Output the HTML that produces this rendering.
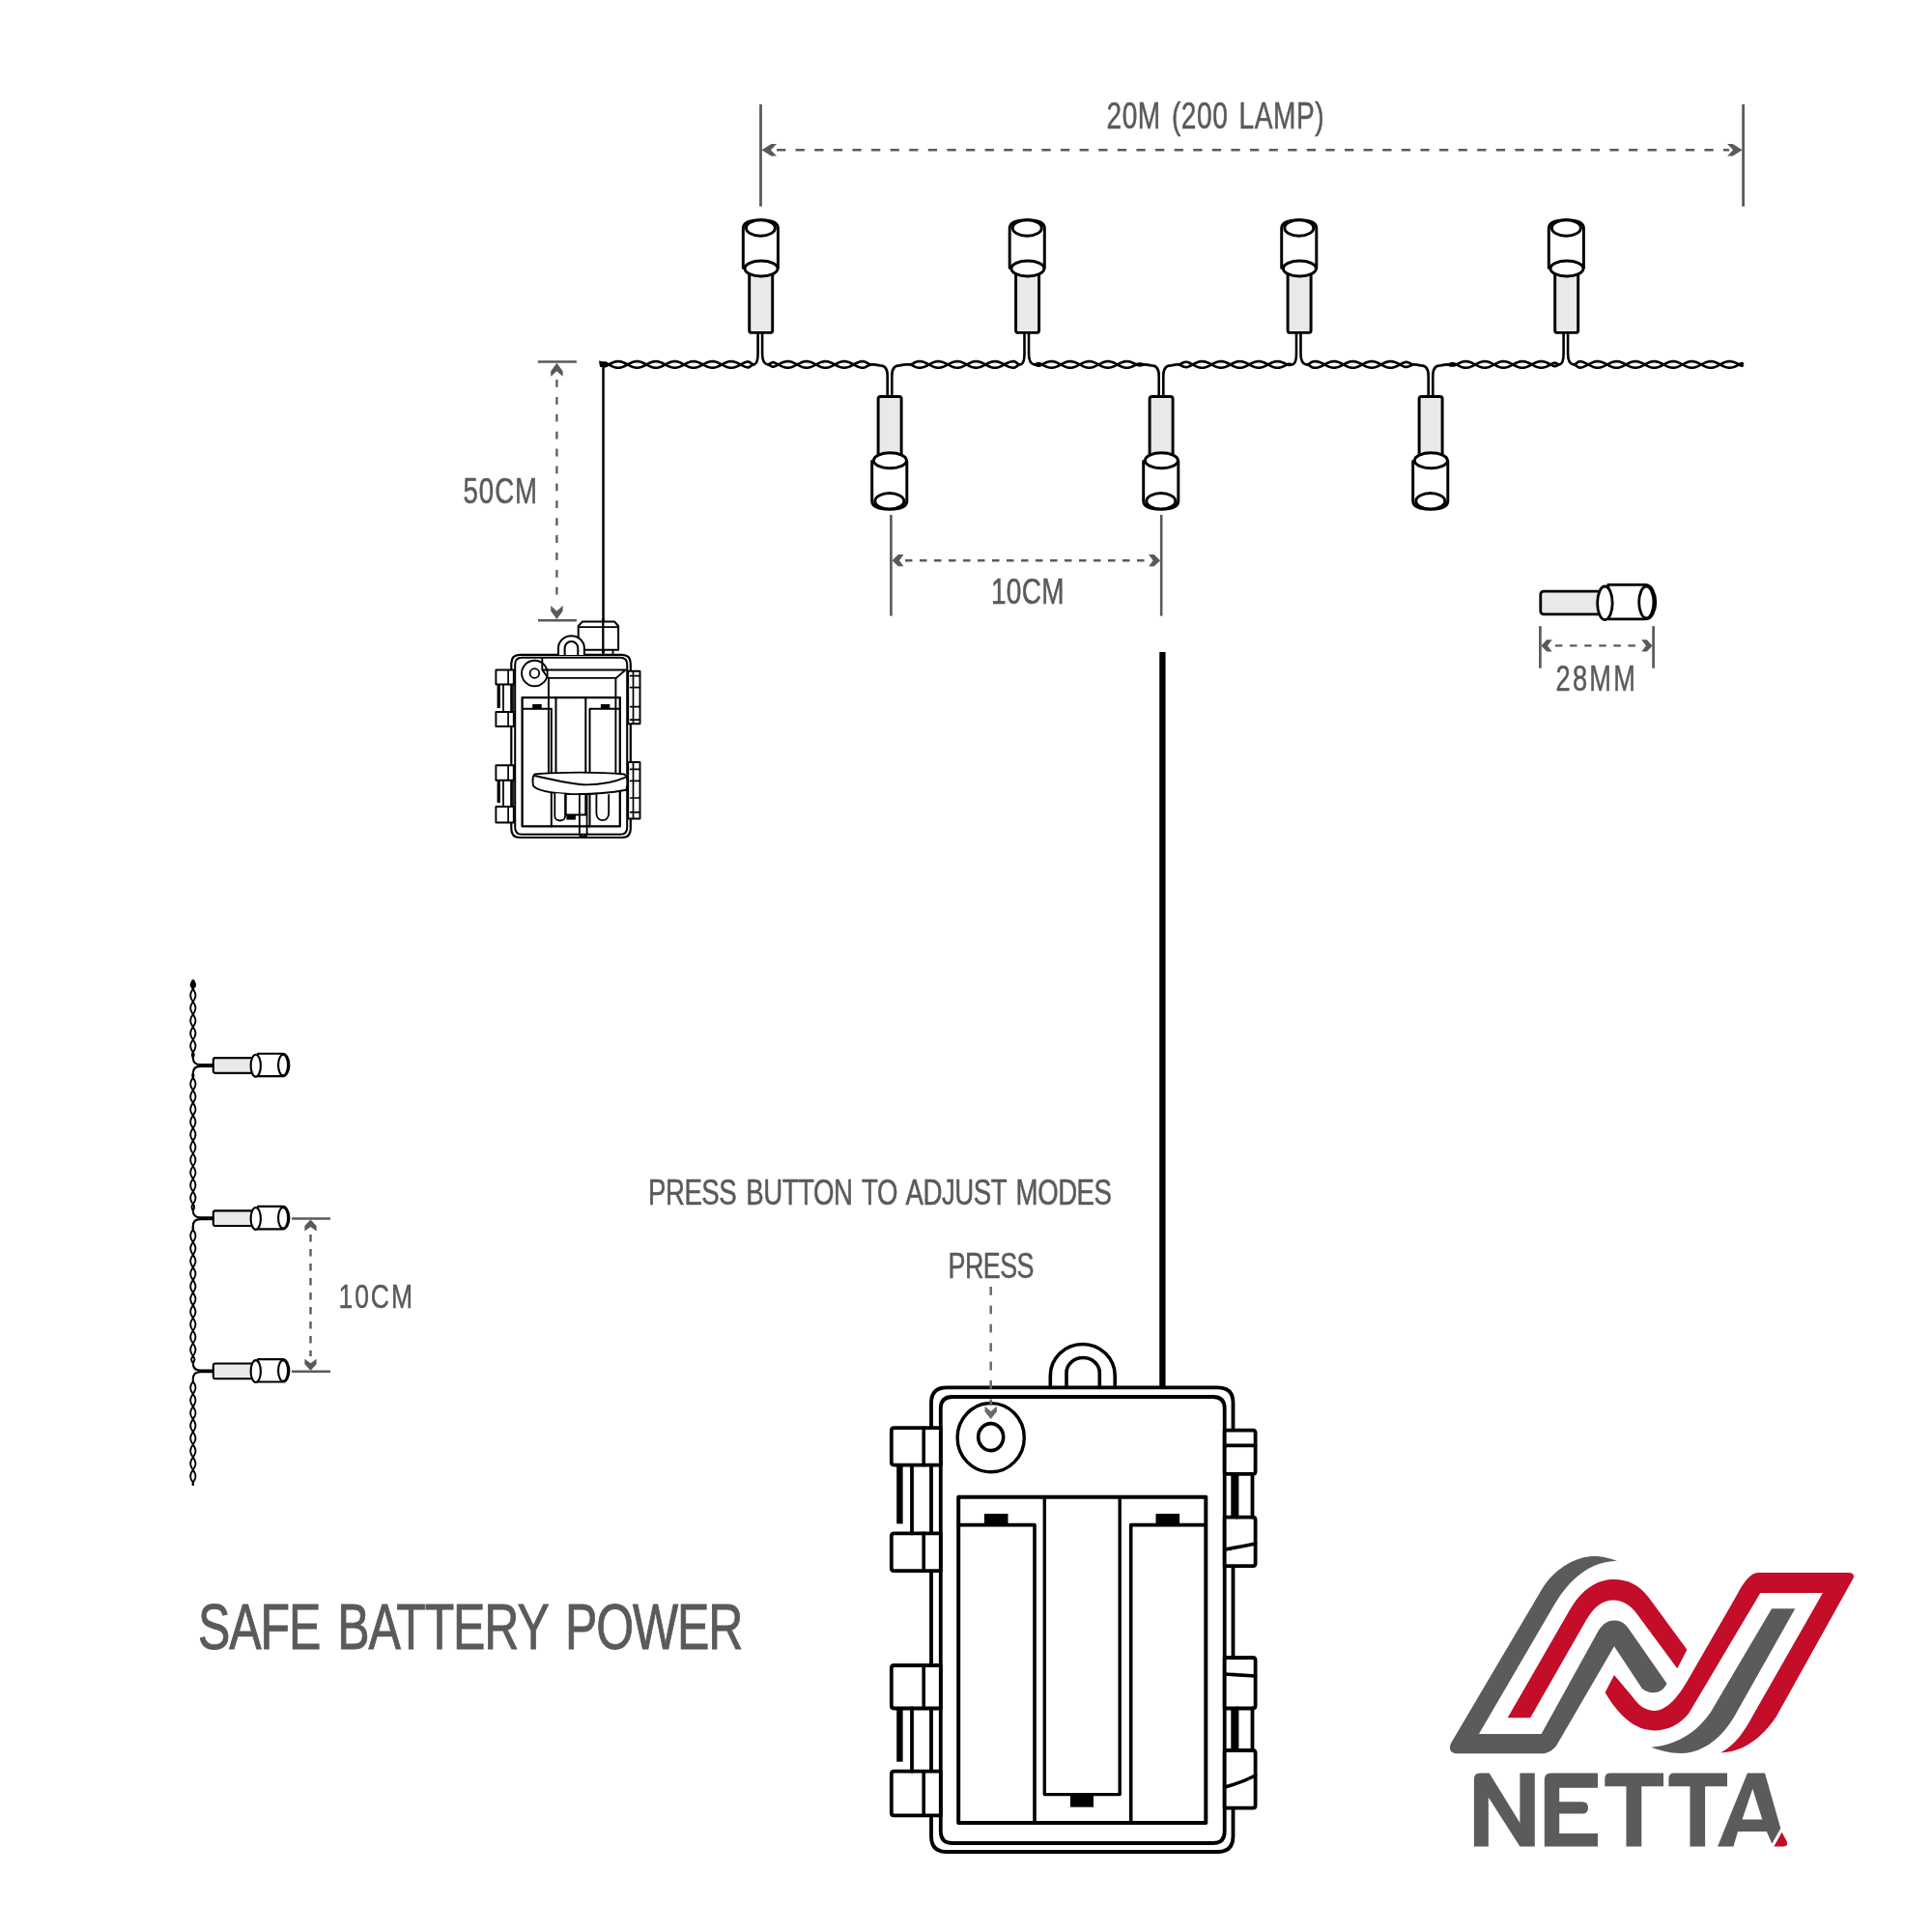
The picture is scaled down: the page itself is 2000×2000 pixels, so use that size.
<!DOCTYPE html>
<html><head><meta charset="utf-8"><style>
html,body{margin:0;padding:0;background:#fff;width:2000px;height:2000px;overflow:hidden}
svg{display:block}
text{font-family:"Liberation Sans",sans-serif;will-change:transform}
</style></head><body>
<svg width="2000" height="2000" viewBox="0 0 2000 2000">
<rect width="2000" height="2000" fill="#fff"/>
<line x1="787.5" y1="108" x2="787.5" y2="213.7" stroke="#5a5a5a" stroke-width="2.8" stroke-linecap="butt"/>
<line x1="1804.6" y1="108" x2="1804.6" y2="213.7" stroke="#5a5a5a" stroke-width="2.8" stroke-linecap="butt"/>
<line x1="804" y1="155.3" x2="1790" y2="155.3" stroke="#5a5a5a" stroke-width="2.6" stroke-linecap="butt" stroke-dasharray="9.3 10.3"/>
<polygon points="804,149.1 798.4,149.1 788.5,155.3 798.4,161.5 804,161.5 798,155.3" fill="#5a5a5a"/>
<polygon points="1788.1,161.5 1793.7,161.5 1803.6,155.3 1793.7,149.1 1788.1,149.1 1794.1,155.3" fill="#5a5a5a"/>
<text transform="translate(1145.5,132.9) scale(0.74,1)" font-size="37.94" word-spacing="3.98" textLength="304.05" lengthAdjust="spacing" fill="#5a5a5a" stroke="#5a5a5a" stroke-width="0.53">20M (200 LAMP)</text>
<path d="M624.5,377.4 L625.5,375.7 L626.5,375.55 L627.5,376.01 L628.5,376.51 L629.5,377.03 L630.5,377.56 L631.5,378.09 L632.51,378.6 L633.51,379.08 L634.51,379.51 L635.51,379.89 L636.51,380.21 L637.51,380.45 L638.51,380.61 L639.51,380.69 L640.51,380.69 L641.51,380.6 L642.51,380.42 L643.51,380.17 L644.51,379.85 L645.51,379.46 L646.51,379.02 L647.51,378.54 L648.52,378.03 L649.52,377.5 L650.52,376.97 L651.52,376.45 L652.52,375.95 L653.52,375.5 L654.52,375.09 L655.52,374.74 L656.52,374.46 L657.52,374.26 L658.52,374.14 L659.52,374.1 L660.52,374.15 L661.52,374.28 L662.52,374.5 L663.52,374.79 L664.53,375.14 L665.53,375.56 L666.53,376.02 L667.53,376.52 L668.53,377.04 L669.53,377.57 L670.53,378.1 L671.53,378.61 L672.53,379.09 L673.53,379.52 L674.53,379.9 L675.53,380.21 L676.53,380.45 L677.53,380.61 L678.53,380.69 L679.54,380.69 L680.54,380.59 L681.54,380.42 L682.54,380.16 L683.54,379.84 L684.54,379.45 L685.54,379.01 L686.54,378.53 L687.54,378.01 L688.54,377.48 L689.54,376.95 L690.54,376.43 L691.54,375.94 L692.54,375.48 L693.54,375.08 L694.54,374.73 L695.55,374.45 L696.55,374.25 L697.55,374.13 L698.55,374.1 L699.55,374.15 L700.55,374.29 L701.55,374.5 L702.55,374.79 L703.55,375.15 L704.55,375.57 L705.55,376.03 L706.55,376.53 L707.55,377.06 L708.55,377.59 L709.55,378.11 L710.56,378.62 L711.56,379.1 L712.56,379.53 L713.56,379.91 L714.56,380.22 L715.56,380.46 L716.56,380.62 L717.56,380.69 L718.56,380.68 L719.56,380.59 L720.56,380.41 L721.56,380.16 L722.56,379.83 L723.56,379.44 L724.56,379 L725.56,378.51 L726.57,378 L727.57,377.47 L728.57,376.94 L729.57,376.42 L730.57,375.93 L731.57,375.47 L732.57,375.07 L733.57,374.72 L734.57,374.45 L735.57,374.25 L736.57,374.13 L737.57,374.1 L738.57,374.15 L739.57,374.29 L740.57,374.51 L741.58,374.8 L742.58,375.16 L743.58,375.58 L744.58,376.05 L745.58,376.55 L746.58,377.07 L747.58,377.6 L748.58,378.13 L749.58,378.63 L750.58,379.11 L751.58,379.54 L752.58,379.92 L753.58,380.23 L754.58,380.46 L755.58,380.62 L756.58,380.69 L757.59,380.68 L758.59,380.59 L759.59,380.41 L760.59,380.15 L761.59,379.82 L762.59,379.43 L763.59,378.99 L764.59,378.5 L765.59,377.99 L766.59,377.46 L767.59,376.93 L768.59,376.41 L769.59,375.92 L770.59,375.46 L771.59,375.06 L772.59,374.72 L773.6,374.44 L774.6,374.4 L775.6,374.74 L776.6,375.38 L777.6,376.14 L778.6,376.81 L779.6,377.26 L780.6,377.4 M624.5,377.4 L625.5,379.1 L626.5,379.25 L627.5,378.79 L628.5,378.29 L629.5,377.77 L630.5,377.24 L631.5,376.71 L632.51,376.2 L633.51,375.72 L634.51,375.29 L635.51,374.91 L636.51,374.59 L637.51,374.35 L638.51,374.19 L639.51,374.11 L640.51,374.11 L641.51,374.2 L642.51,374.38 L643.51,374.63 L644.51,374.95 L645.51,375.34 L646.51,375.78 L647.51,376.26 L648.52,376.77 L649.52,377.3 L650.52,377.83 L651.52,378.35 L652.52,378.85 L653.52,379.3 L654.52,379.71 L655.52,380.06 L656.52,380.34 L657.52,380.54 L658.52,380.66 L659.52,380.7 L660.52,380.65 L661.52,380.52 L662.52,380.3 L663.52,380.01 L664.53,379.66 L665.53,379.24 L666.53,378.78 L667.53,378.28 L668.53,377.76 L669.53,377.23 L670.53,376.7 L671.53,376.19 L672.53,375.71 L673.53,375.28 L674.53,374.9 L675.53,374.59 L676.53,374.35 L677.53,374.19 L678.53,374.11 L679.54,374.11 L680.54,374.21 L681.54,374.38 L682.54,374.64 L683.54,374.96 L684.54,375.35 L685.54,375.79 L686.54,376.27 L687.54,376.79 L688.54,377.32 L689.54,377.85 L690.54,378.37 L691.54,378.86 L692.54,379.32 L693.54,379.72 L694.54,380.07 L695.55,380.35 L696.55,380.55 L697.55,380.67 L698.55,380.7 L699.55,380.65 L700.55,380.51 L701.55,380.3 L702.55,380.01 L703.55,379.65 L704.55,379.23 L705.55,378.77 L706.55,378.27 L707.55,377.74 L708.55,377.21 L709.55,376.69 L710.56,376.18 L711.56,375.7 L712.56,375.27 L713.56,374.89 L714.56,374.58 L715.56,374.34 L716.56,374.18 L717.56,374.11 L718.56,374.12 L719.56,374.21 L720.56,374.39 L721.56,374.64 L722.56,374.97 L723.56,375.36 L724.56,375.8 L725.56,376.29 L726.57,376.8 L727.57,377.33 L728.57,377.86 L729.57,378.38 L730.57,378.87 L731.57,379.33 L732.57,379.73 L733.57,380.08 L734.57,380.35 L735.57,380.55 L736.57,380.67 L737.57,380.7 L738.57,380.65 L739.57,380.51 L740.57,380.29 L741.58,380 L742.58,379.64 L743.58,379.22 L744.58,378.75 L745.58,378.25 L746.58,377.73 L747.58,377.2 L748.58,376.67 L749.58,376.17 L750.58,375.69 L751.58,375.26 L752.58,374.88 L753.58,374.57 L754.58,374.34 L755.58,374.18 L756.58,374.11 L757.59,374.12 L758.59,374.21 L759.59,374.39 L760.59,374.65 L761.59,374.98 L762.59,375.37 L763.59,375.81 L764.59,376.3 L765.59,376.81 L766.59,377.34 L767.59,377.87 L768.59,378.39 L769.59,378.88 L770.59,379.34 L771.59,379.74 L772.59,380.08 L773.6,380.36 L774.6,380.4 L775.6,380.06 L776.6,379.42 L777.6,378.66 L778.6,377.99 L779.6,377.54 L780.6,377.4 M794.6,377.4 L795.6,377.56 L796.61,378.02 L797.61,378.64 L798.61,379.24 L799.62,379.63 L800.62,379.69 L801.63,379.41 L802.63,378.97 L803.63,378.48 L804.64,377.96 L805.64,377.43 L806.64,376.9 L807.65,376.38 L808.65,375.89 L809.65,375.44 L810.66,375.04 L811.66,374.7 L812.67,374.43 L813.67,374.23 L814.67,374.13 L815.68,374.1 L816.68,374.16 L817.68,374.31 L818.69,374.54 L819.69,374.84 L820.69,375.21 L821.7,375.64 L822.7,376.11 L823.71,376.61 L824.71,377.14 L825.71,377.67 L826.72,378.2 L827.72,378.7 L828.72,379.17 L829.73,379.6 L830.73,379.97 L831.73,380.27 L832.74,380.49 L833.74,380.64 L834.75,380.7 L835.75,380.67 L836.75,380.56 L837.76,380.37 L838.76,380.1 L839.76,379.76 L840.77,379.35 L841.77,378.9 L842.77,378.41 L843.78,377.89 L844.78,377.36 L845.79,376.83 L846.79,376.31 L847.79,375.82 L848.8,375.38 L849.8,374.98 L850.8,374.65 L851.81,374.39 L852.81,374.21 L853.81,374.12 L854.82,374.11 L855.82,374.18 L856.83,374.34 L857.83,374.58 L858.83,374.89 L859.84,375.27 L860.84,375.7 L861.84,376.18 L862.85,376.69 L863.85,377.21 L864.85,377.75 L865.86,378.27 L866.86,378.77 L867.87,379.24 L868.87,379.65 L869.87,380.01 L870.88,380.3 L871.88,380.52 L872.88,380.65 L873.89,380.7 L874.89,380.66 L875.89,380.54 L876.9,380.33 L877.9,380.05 L878.91,379.7 L879.91,379.29 L880.91,378.83 L881.92,378.34 L882.92,377.81 L883.92,377.28 L884.93,376.75 L885.93,376.24 L886.93,375.76 L887.94,375.32 L888.94,374.93 L889.95,374.61 L890.95,374.36 L891.95,374.2 L892.96,374.11 L893.96,374.16 L894.96,374.4 L895.97,374.8 L896.97,375.3 L897.97,375.84 L898.98,376.36 L899.98,376.79 L900.99,377.11 L901.99,377.31 L902.99,377.39 L904,377.41 L905,377.4 M794.6,377.4 L795.6,377.24 L796.61,376.78 L797.61,376.16 L798.61,375.56 L799.62,375.17 L800.62,375.11 L801.63,375.39 L802.63,375.83 L803.63,376.32 L804.64,376.84 L805.64,377.37 L806.64,377.9 L807.65,378.42 L808.65,378.91 L809.65,379.36 L810.66,379.76 L811.66,380.1 L812.67,380.37 L813.67,380.57 L814.67,380.67 L815.68,380.7 L816.68,380.64 L817.68,380.49 L818.69,380.26 L819.69,379.96 L820.69,379.59 L821.7,379.16 L822.7,378.69 L823.71,378.19 L824.71,377.66 L825.71,377.13 L826.72,376.6 L827.72,376.1 L828.72,375.63 L829.73,375.2 L830.73,374.83 L831.73,374.53 L832.74,374.31 L833.74,374.16 L834.75,374.1 L835.75,374.13 L836.75,374.24 L837.76,374.43 L838.76,374.7 L839.76,375.04 L840.77,375.45 L841.77,375.9 L842.77,376.39 L843.78,376.91 L844.78,377.44 L845.79,377.97 L846.79,378.49 L847.79,378.98 L848.8,379.42 L849.8,379.82 L850.8,380.15 L851.81,380.41 L852.81,380.59 L853.81,380.68 L854.82,380.69 L855.82,380.62 L856.83,380.46 L857.83,380.22 L858.83,379.91 L859.84,379.53 L860.84,379.1 L861.84,378.62 L862.85,378.11 L863.85,377.59 L864.85,377.05 L865.86,376.53 L866.86,376.03 L867.87,375.56 L868.87,375.15 L869.87,374.79 L870.88,374.5 L871.88,374.28 L872.88,374.15 L873.89,374.1 L874.89,374.14 L875.89,374.26 L876.9,374.47 L877.9,374.75 L878.91,375.1 L879.91,375.51 L880.91,375.97 L881.92,376.46 L882.92,376.99 L883.92,377.52 L884.93,378.05 L885.93,378.56 L886.93,379.04 L887.94,379.48 L888.94,379.87 L889.95,380.19 L890.95,380.44 L891.95,380.6 L892.96,380.69 L893.96,380.64 L894.96,380.4 L895.97,380 L896.97,379.5 L897.97,378.96 L898.98,378.44 L899.98,378.01 L900.99,377.69 L901.99,377.49 L902.99,377.41 L904,377.39 L905,377.4 M937,377.4 L938,377.36 L939.01,377.29 L940.01,377.23 L941.02,377.24 L942.02,377.36 L943.03,377.62 L944.03,378.01 L945.03,378.5 L946.04,379.04 L947.04,379.57 L948.05,380.03 L949.05,380.35 L950.05,380.55 L951.06,380.67 L952.06,380.7 L953.07,380.65 L954.07,380.51 L955.08,380.29 L956.08,380 L957.08,379.63 L958.09,379.21 L959.09,378.75 L960.1,378.24 L961.1,377.72 L962.11,377.18 L963.11,376.66 L964.11,376.15 L965.12,375.67 L966.12,375.24 L967.13,374.87 L968.13,374.56 L969.13,374.33 L970.14,374.17 L971.14,374.1 L972.15,374.12 L973.15,374.22 L974.16,374.41 L975.16,374.67 L976.16,375.01 L977.17,375.4 L978.17,375.85 L979.18,376.34 L980.18,376.86 L981.18,377.39 L982.19,377.92 L983.19,378.44 L984.2,378.93 L985.2,379.38 L986.21,379.78 L987.21,380.12 L988.21,380.38 L989.22,380.57 L990.22,380.68 L991.23,380.7 L992.23,380.63 L993.24,380.48 L994.24,380.25 L995.24,379.94 L996.25,379.57 L997.25,379.14 L998.26,378.67 L999.26,378.16 L1000.26,377.63 L1001.27,377.1 L1002.27,376.57 L1003.28,376.07 L1004.28,375.6 L1005.29,375.18 L1006.29,374.81 L1007.29,374.52 L1008.3,374.3 L1009.3,374.16 L1010.31,374.1 L1011.31,374.13 L1012.32,374.25 L1013.32,374.45 L1014.32,374.72 L1015.33,375.07 L1016.33,375.47 L1017.34,375.93 L1018.34,376.43 L1019.34,376.95 L1020.35,377.48 L1021.35,378.01 L1022.36,378.52 L1023.36,379.01 L1024.37,379.45 L1025.37,379.84 L1026.37,380.17 L1027.38,380.42 L1028.38,380.6 L1029.39,380.69 L1030.39,380.69 L1031.39,380.61 L1032.4,380.45 L1033.4,380.2 L1034.41,379.88 L1035.41,379.5 L1036.42,379.07 L1037.42,378.59 L1038.42,378.07 L1039.43,377.54 L1040.43,377.01 L1041.44,376.49 L1042.44,375.99 L1043.45,375.53 L1044.45,375.11 L1045.45,374.76 L1046.46,374.48 L1047.46,374.27 L1048.47,374.14 L1049.47,374.1 L1050.47,374.3 L1051.48,374.85 L1052.48,375.61 L1053.49,376.37 L1054.49,376.97 L1055.5,377.31 L1056.5,377.4 M937,377.4 L938,377.44 L939.01,377.51 L940.01,377.57 L941.02,377.56 L942.02,377.44 L943.03,377.18 L944.03,376.79 L945.03,376.3 L946.04,375.76 L947.04,375.23 L948.05,374.77 L949.05,374.45 L950.05,374.25 L951.06,374.13 L952.06,374.1 L953.07,374.15 L954.07,374.29 L955.08,374.51 L956.08,374.8 L957.08,375.17 L958.09,375.59 L959.09,376.05 L960.1,376.56 L961.1,377.08 L962.11,377.62 L963.11,378.14 L964.11,378.65 L965.12,379.13 L966.12,379.56 L967.13,379.93 L968.13,380.24 L969.13,380.47 L970.14,380.63 L971.14,380.7 L972.15,380.68 L973.15,380.58 L974.16,380.39 L975.16,380.13 L976.16,379.79 L977.17,379.4 L978.17,378.95 L979.18,378.46 L980.18,377.94 L981.18,377.41 L982.19,376.88 L983.19,376.36 L984.2,375.87 L985.2,375.42 L986.21,375.02 L987.21,374.68 L988.21,374.42 L989.22,374.23 L990.22,374.12 L991.23,374.1 L992.23,374.17 L993.24,374.32 L994.24,374.55 L995.24,374.86 L996.25,375.23 L997.25,375.66 L998.26,376.13 L999.26,376.64 L1000.26,377.17 L1001.27,377.7 L1002.27,378.23 L1003.28,378.73 L1004.28,379.2 L1005.29,379.62 L1006.29,379.99 L1007.29,380.28 L1008.3,380.5 L1009.3,380.64 L1010.31,380.7 L1011.31,380.67 L1012.32,380.55 L1013.32,380.35 L1014.32,380.08 L1015.33,379.73 L1016.33,379.33 L1017.34,378.87 L1018.34,378.37 L1019.34,377.85 L1020.35,377.32 L1021.35,376.79 L1022.36,376.28 L1023.36,375.79 L1024.37,375.35 L1025.37,374.96 L1026.37,374.63 L1027.38,374.38 L1028.38,374.2 L1029.39,374.11 L1030.39,374.11 L1031.39,374.19 L1032.4,374.35 L1033.4,374.6 L1034.41,374.92 L1035.41,375.3 L1036.42,375.73 L1037.42,376.21 L1038.42,376.73 L1039.43,377.26 L1040.43,377.79 L1041.44,378.31 L1042.44,378.81 L1043.45,379.27 L1044.45,379.69 L1045.45,380.04 L1046.46,380.32 L1047.46,380.53 L1048.47,380.66 L1049.47,380.7 L1050.47,380.5 L1051.48,379.95 L1052.48,379.19 L1053.49,378.43 L1054.49,377.83 L1055.5,377.49 L1056.5,377.4 M1070.5,377.4 L1071.5,377.55 L1072.51,377.93 L1073.51,378.36 L1074.52,378.67 L1075.52,378.72 L1076.53,378.48 L1077.53,378.02 L1078.53,377.49 L1079.54,376.96 L1080.54,376.43 L1081.55,375.94 L1082.55,375.48 L1083.56,375.07 L1084.56,374.73 L1085.57,374.45 L1086.57,374.25 L1087.57,374.13 L1088.58,374.1 L1089.58,374.15 L1090.59,374.29 L1091.59,374.51 L1092.6,374.81 L1093.6,375.17 L1094.6,375.59 L1095.61,376.06 L1096.61,376.57 L1097.62,377.09 L1098.62,377.62 L1099.63,378.15 L1100.63,378.66 L1101.63,379.13 L1102.64,379.56 L1103.64,379.94 L1104.65,380.24 L1105.65,380.48 L1106.66,380.63 L1107.66,380.7 L1108.67,380.68 L1109.67,380.57 L1110.67,380.39 L1111.68,380.12 L1112.68,379.79 L1113.69,379.39 L1114.69,378.94 L1115.7,378.45 L1116.7,377.93 L1117.7,377.4 L1118.71,376.87 L1119.71,376.35 L1120.72,375.86 L1121.72,375.41 L1122.73,375.01 L1123.73,374.67 L1124.73,374.41 L1125.74,374.22 L1126.74,374.12 L1127.75,374.1 L1128.75,374.17 L1129.76,374.33 L1130.76,374.56 L1131.77,374.87 L1132.77,375.24 L1133.77,375.67 L1134.78,376.14 L1135.78,376.65 L1136.79,377.18 L1137.79,377.71 L1138.8,378.24 L1139.8,378.74 L1140.8,379.21 L1141.81,379.63 L1142.81,379.99 L1143.82,380.29 L1144.82,380.51 L1145.83,380.65 L1146.83,380.7 L1147.83,380.67 L1148.84,380.55 L1149.84,380.35 L1150.85,380.07 L1151.85,379.72 L1152.86,379.32 L1153.86,378.86 L1154.87,378.36 L1155.87,377.84 L1156.87,377.31 L1157.88,376.78 L1158.88,376.26 L1159.89,375.78 L1160.89,375.34 L1161.9,374.95 L1162.9,374.63 L1163.9,374.37 L1164.91,374.2 L1165.91,374.11 L1166.92,374.11 L1167.92,374.19 L1168.93,374.36 L1169.93,374.61 L1170.93,374.92 L1171.94,375.31 L1172.94,375.75 L1173.95,376.23 L1174.95,376.75 L1175.96,377.28 L1176.96,377.75 L1177.97,378.1 L1178.97,378.3 L1179.97,378.35 L1180.98,378.26 L1181.98,378.07 L1182.99,377.83 L1183.99,377.61 L1185,377.46 L1186,377.4 M1070.5,377.4 L1071.5,377.25 L1072.51,376.87 L1073.51,376.44 L1074.52,376.13 L1075.52,376.08 L1076.53,376.32 L1077.53,376.78 L1078.53,377.31 L1079.54,377.84 L1080.54,378.37 L1081.55,378.86 L1082.55,379.32 L1083.56,379.73 L1084.56,380.07 L1085.57,380.35 L1086.57,380.55 L1087.57,380.67 L1088.58,380.7 L1089.58,380.65 L1090.59,380.51 L1091.59,380.29 L1092.6,379.99 L1093.6,379.63 L1094.6,379.21 L1095.61,378.74 L1096.61,378.23 L1097.62,377.71 L1098.62,377.18 L1099.63,376.65 L1100.63,376.14 L1101.63,375.67 L1102.64,375.24 L1103.64,374.86 L1104.65,374.56 L1105.65,374.32 L1106.66,374.17 L1107.66,374.1 L1108.67,374.12 L1109.67,374.23 L1110.67,374.41 L1111.68,374.68 L1112.68,375.01 L1113.69,375.41 L1114.69,375.86 L1115.7,376.35 L1116.7,376.87 L1117.7,377.4 L1118.71,377.93 L1119.71,378.45 L1120.72,378.94 L1121.72,379.39 L1122.73,379.79 L1123.73,380.13 L1124.73,380.39 L1125.74,380.58 L1126.74,380.68 L1127.75,380.7 L1128.75,380.63 L1129.76,380.47 L1130.76,380.24 L1131.77,379.93 L1132.77,379.56 L1133.77,379.13 L1134.78,378.66 L1135.78,378.15 L1136.79,377.62 L1137.79,377.09 L1138.8,376.56 L1139.8,376.06 L1140.8,375.59 L1141.81,375.17 L1142.81,374.81 L1143.82,374.51 L1144.82,374.29 L1145.83,374.15 L1146.83,374.1 L1147.83,374.13 L1148.84,374.25 L1149.84,374.45 L1150.85,374.73 L1151.85,375.08 L1152.86,375.48 L1153.86,375.94 L1154.87,376.44 L1155.87,376.96 L1156.87,377.49 L1157.88,378.02 L1158.88,378.54 L1159.89,379.02 L1160.89,379.46 L1161.9,379.85 L1162.9,380.17 L1163.9,380.43 L1164.91,380.6 L1165.91,380.69 L1166.92,380.69 L1167.92,380.61 L1168.93,380.44 L1169.93,380.19 L1170.93,379.88 L1171.94,379.49 L1172.94,379.05 L1173.95,378.57 L1174.95,378.05 L1175.96,377.52 L1176.96,377.05 L1177.97,376.7 L1178.97,376.5 L1179.97,376.45 L1180.98,376.54 L1181.98,376.73 L1182.99,376.97 L1183.99,377.19 L1185,377.34 L1186,377.4 M1218,377.4 L1219,377.43 L1220,377.55 L1221,377.79 L1222,378.13 L1223,378.56 L1224,379.03 L1225,379.48 L1226,379.84 L1227,380.06 L1228,380.11 L1229,379.98 L1230,379.67 L1231,379.25 L1232,378.79 L1233,378.29 L1234,377.77 L1235,377.24 L1236,376.71 L1237,376.2 L1238,375.73 L1239,375.29 L1240,374.91 L1241,374.6 L1242,374.35 L1243,374.19 L1244,374.11 L1245,374.11 L1246,374.2 L1247,374.37 L1248,374.63 L1249,374.95 L1250,375.33 L1251,375.77 L1252,376.25 L1253,376.77 L1254,377.29 L1255,377.82 L1256,378.34 L1257,378.84 L1258,379.3 L1259,379.71 L1260,380.05 L1261,380.33 L1262,380.54 L1263,380.66 L1264,380.7 L1265,380.65 L1266,380.52 L1267,380.31 L1268,380.02 L1269,379.67 L1270,379.25 L1271,378.79 L1272,378.29 L1273,377.77 L1274,377.24 L1275,376.71 L1276,376.2 L1277,375.73 L1278,375.29 L1279,374.91 L1280,374.6 L1281,374.35 L1282,374.19 L1283,374.11 L1284,374.11 L1285,374.2 L1286,374.37 L1287,374.63 L1288,374.95 L1289,375.33 L1290,375.77 L1291,376.25 L1292,376.77 L1293,377.29 L1294,377.82 L1295,378.34 L1296,378.84 L1297,379.3 L1298,379.71 L1299,380.05 L1300,380.33 L1301,380.54 L1302,380.66 L1303,380.7 L1304,380.65 L1305,380.52 L1306,380.31 L1307,380.02 L1308,379.67 L1309,379.25 L1310,378.79 L1311,378.29 L1312,377.77 L1313,377.24 L1314,376.71 L1315,376.2 L1316,375.73 L1317,375.29 L1318,374.91 L1319,374.6 L1320,374.35 L1321,374.19 L1322,374.11 L1323,374.11 L1324,374.2 L1325,374.37 L1326,374.63 L1327,374.95 L1328,375.33 L1329,375.77 L1330,376.25 L1331,376.77 L1332,377.3 L1333,377.74 L1334,377.98 L1335,377.96 L1336,377.76 L1337,377.51 L1338,377.4 M1218,377.4 L1219,377.37 L1220,377.25 L1221,377.01 L1222,376.67 L1223,376.24 L1224,375.77 L1225,375.32 L1226,374.96 L1227,374.74 L1228,374.69 L1229,374.82 L1230,375.13 L1231,375.55 L1232,376.01 L1233,376.51 L1234,377.03 L1235,377.56 L1236,378.09 L1237,378.6 L1238,379.07 L1239,379.51 L1240,379.89 L1241,380.2 L1242,380.45 L1243,380.61 L1244,380.69 L1245,380.69 L1246,380.6 L1247,380.43 L1248,380.17 L1249,379.85 L1250,379.47 L1251,379.03 L1252,378.55 L1253,378.03 L1254,377.51 L1255,376.98 L1256,376.46 L1257,375.96 L1258,375.5 L1259,375.09 L1260,374.75 L1261,374.47 L1262,374.26 L1263,374.14 L1264,374.1 L1265,374.15 L1266,374.28 L1267,374.49 L1268,374.78 L1269,375.13 L1270,375.55 L1271,376.01 L1272,376.51 L1273,377.03 L1274,377.56 L1275,378.09 L1276,378.6 L1277,379.07 L1278,379.51 L1279,379.89 L1280,380.2 L1281,380.45 L1282,380.61 L1283,380.69 L1284,380.69 L1285,380.6 L1286,380.43 L1287,380.17 L1288,379.85 L1289,379.47 L1290,379.03 L1291,378.55 L1292,378.03 L1293,377.51 L1294,376.98 L1295,376.46 L1296,375.96 L1297,375.5 L1298,375.09 L1299,374.75 L1300,374.47 L1301,374.26 L1302,374.14 L1303,374.1 L1304,374.15 L1305,374.28 L1306,374.49 L1307,374.78 L1308,375.13 L1309,375.55 L1310,376.01 L1311,376.51 L1312,377.03 L1313,377.56 L1314,378.09 L1315,378.6 L1316,379.07 L1317,379.51 L1318,379.89 L1319,380.2 L1320,380.45 L1321,380.61 L1322,380.69 L1323,380.69 L1324,380.6 L1325,380.43 L1326,380.17 L1327,379.85 L1328,379.47 L1329,379.03 L1330,378.55 L1331,378.03 L1332,377.5 L1333,377.06 L1334,376.82 L1335,376.84 L1336,377.04 L1337,377.29 L1338,377.4 M1352,377.4 L1353,377.37 L1354,377.18 L1355,376.75 L1356,376.11 L1357,375.38 L1358,374.74 L1359,374.35 L1360,374.19 L1361,374.11 L1362,374.11 L1363,374.2 L1364,374.37 L1365,374.63 L1366,374.95 L1367,375.33 L1368,375.77 L1369,376.25 L1370,376.77 L1371,377.29 L1372,377.82 L1373,378.34 L1374,378.84 L1375,379.3 L1376,379.71 L1377,380.05 L1378,380.33 L1379,380.54 L1380,380.66 L1381,380.7 L1382,380.65 L1383,380.52 L1384,380.31 L1385,380.02 L1386,379.67 L1387,379.25 L1388,378.79 L1389,378.29 L1390,377.77 L1391,377.24 L1392,376.71 L1393,376.2 L1394,375.73 L1395,375.29 L1396,374.91 L1397,374.6 L1398,374.35 L1399,374.19 L1400,374.11 L1401,374.11 L1402,374.2 L1403,374.37 L1404,374.63 L1405,374.95 L1406,375.33 L1407,375.77 L1408,376.25 L1409,376.77 L1410,377.29 L1411,377.82 L1412,378.34 L1413,378.84 L1414,379.3 L1415,379.71 L1416,380.05 L1417,380.33 L1418,380.54 L1419,380.66 L1420,380.7 L1421,380.65 L1422,380.52 L1423,380.31 L1424,380.02 L1425,379.67 L1426,379.25 L1427,378.79 L1428,378.29 L1429,377.77 L1430,377.24 L1431,376.71 L1432,376.2 L1433,375.73 L1434,375.29 L1435,374.91 L1436,374.6 L1437,374.35 L1438,374.19 L1439,374.11 L1440,374.11 L1441,374.2 L1442,374.37 L1443,374.63 L1444,374.95 L1445,375.33 L1446,375.77 L1447,376.25 L1448,376.77 L1449,377.29 L1450,377.82 L1451,378.34 L1452,378.84 L1453,379.3 L1454,379.67 L1455,379.88 L1456,379.9 L1457,379.75 L1458,379.45 L1459,379.05 L1460,378.61 L1461,378.18 L1462,377.83 L1463,377.58 L1464,377.44 L1465,377.4 M1352,377.4 L1353,377.43 L1354,377.62 L1355,378.05 L1356,378.69 L1357,379.42 L1358,380.06 L1359,380.45 L1360,380.61 L1361,380.69 L1362,380.69 L1363,380.6 L1364,380.43 L1365,380.17 L1366,379.85 L1367,379.47 L1368,379.03 L1369,378.55 L1370,378.03 L1371,377.51 L1372,376.98 L1373,376.46 L1374,375.96 L1375,375.5 L1376,375.09 L1377,374.75 L1378,374.47 L1379,374.26 L1380,374.14 L1381,374.1 L1382,374.15 L1383,374.28 L1384,374.49 L1385,374.78 L1386,375.13 L1387,375.55 L1388,376.01 L1389,376.51 L1390,377.03 L1391,377.56 L1392,378.09 L1393,378.6 L1394,379.07 L1395,379.51 L1396,379.89 L1397,380.2 L1398,380.45 L1399,380.61 L1400,380.69 L1401,380.69 L1402,380.6 L1403,380.43 L1404,380.17 L1405,379.85 L1406,379.47 L1407,379.03 L1408,378.55 L1409,378.03 L1410,377.51 L1411,376.98 L1412,376.46 L1413,375.96 L1414,375.5 L1415,375.09 L1416,374.75 L1417,374.47 L1418,374.26 L1419,374.14 L1420,374.1 L1421,374.15 L1422,374.28 L1423,374.49 L1424,374.78 L1425,375.13 L1426,375.55 L1427,376.01 L1428,376.51 L1429,377.03 L1430,377.56 L1431,378.09 L1432,378.6 L1433,379.07 L1434,379.51 L1435,379.89 L1436,380.2 L1437,380.45 L1438,380.61 L1439,380.69 L1440,380.69 L1441,380.6 L1442,380.43 L1443,380.17 L1444,379.85 L1445,379.47 L1446,379.03 L1447,378.55 L1448,378.03 L1449,377.51 L1450,376.98 L1451,376.46 L1452,375.96 L1453,375.5 L1454,375.13 L1455,374.92 L1456,374.9 L1457,375.05 L1458,375.35 L1459,375.75 L1460,376.19 L1461,376.62 L1462,376.97 L1463,377.22 L1464,377.36 L1465,377.4 M1497,377.4 L1498.01,377.46 L1499.01,377.62 L1500.02,377.86 L1501.02,378.13 L1502.03,378.38 L1503.03,378.54 L1504.04,378.56 L1505.04,378.43 L1506.05,378.15 L1507.05,377.72 L1508.06,377.21 L1509.06,376.68 L1510.07,376.17 L1511.07,375.69 L1512.08,375.26 L1513.08,374.88 L1514.09,374.57 L1515.09,374.34 L1516.1,374.18 L1517.1,374.11 L1518.11,374.12 L1519.11,374.22 L1520.12,374.4 L1521.12,374.66 L1522.13,374.99 L1523.13,375.39 L1524.14,375.84 L1525.14,376.33 L1526.15,376.84 L1527.15,377.38 L1528.16,377.91 L1529.16,378.43 L1530.17,378.92 L1531.17,379.37 L1532.18,379.77 L1533.18,380.11 L1534.19,380.38 L1535.19,380.57 L1536.2,380.68 L1537.21,380.7 L1538.21,380.63 L1539.22,380.48 L1540.22,380.25 L1541.23,379.95 L1542.23,379.58 L1543.24,379.15 L1544.24,378.67 L1545.25,378.17 L1546.25,377.64 L1547.26,377.1 L1548.26,376.58 L1549.27,376.07 L1550.27,375.6 L1551.28,375.18 L1552.28,374.82 L1553.29,374.52 L1554.29,374.3 L1555.3,374.16 L1556.3,374.1 L1557.31,374.13 L1558.31,374.25 L1559.32,374.45 L1560.32,374.72 L1561.33,375.07 L1562.33,375.47 L1563.34,375.93 L1564.34,376.43 L1565.35,376.95 L1566.35,377.48 L1567.36,378.01 L1568.36,378.53 L1569.37,379.01 L1570.37,379.46 L1571.38,379.85 L1572.38,380.17 L1573.39,380.42 L1574.39,380.6 L1575.4,380.69 L1576.41,380.69 L1577.41,380.61 L1578.42,380.44 L1579.42,380.2 L1580.43,379.88 L1581.43,379.49 L1582.44,379.06 L1583.44,378.57 L1584.45,378.06 L1585.45,377.53 L1586.46,377 L1587.46,376.48 L1588.47,375.98 L1589.47,375.52 L1590.48,375.1 L1591.48,374.75 L1592.49,374.47 L1593.49,374.26 L1594.5,374.14 L1595.5,374.1 L1596.51,374.15 L1597.51,374.28 L1598.52,374.49 L1599.52,374.79 L1600.53,375.14 L1601.53,375.56 L1602.54,376.03 L1603.54,376.53 L1604.55,377.05 L1605.55,377.59 L1606.56,378.12 L1607.56,378.63 L1608.57,379.03 L1609.57,379.14 L1610.58,378.95 L1611.58,378.51 L1612.59,377.98 L1613.59,377.56 L1614.6,377.4 M1497,377.4 L1498.01,377.34 L1499.01,377.18 L1500.02,376.94 L1501.02,376.67 L1502.03,376.42 L1503.03,376.26 L1504.04,376.24 L1505.04,376.37 L1506.05,376.65 L1507.05,377.08 L1508.06,377.59 L1509.06,378.12 L1510.07,378.63 L1511.07,379.11 L1512.08,379.54 L1513.08,379.92 L1514.09,380.23 L1515.09,380.46 L1516.1,380.62 L1517.1,380.69 L1518.11,380.68 L1519.11,380.58 L1520.12,380.4 L1521.12,380.14 L1522.13,379.81 L1523.13,379.41 L1524.14,378.96 L1525.14,378.47 L1526.15,377.96 L1527.15,377.42 L1528.16,376.89 L1529.16,376.37 L1530.17,375.88 L1531.17,375.43 L1532.18,375.03 L1533.18,374.69 L1534.19,374.42 L1535.19,374.23 L1536.2,374.12 L1537.21,374.1 L1538.21,374.17 L1539.22,374.32 L1540.22,374.55 L1541.23,374.85 L1542.23,375.22 L1543.24,375.65 L1544.24,376.13 L1545.25,376.63 L1546.25,377.16 L1547.26,377.7 L1548.26,378.22 L1549.27,378.73 L1550.27,379.2 L1551.28,379.62 L1552.28,379.98 L1553.29,380.28 L1554.29,380.5 L1555.3,380.64 L1556.3,380.7 L1557.31,380.67 L1558.31,380.55 L1559.32,380.35 L1560.32,380.08 L1561.33,379.73 L1562.33,379.33 L1563.34,378.87 L1564.34,378.37 L1565.35,377.85 L1566.35,377.32 L1567.36,376.79 L1568.36,376.27 L1569.37,375.79 L1570.37,375.34 L1571.38,374.95 L1572.38,374.63 L1573.39,374.38 L1574.39,374.2 L1575.4,374.11 L1576.41,374.11 L1577.41,374.19 L1578.42,374.36 L1579.42,374.6 L1580.43,374.92 L1581.43,375.31 L1582.44,375.74 L1583.44,376.23 L1584.45,376.74 L1585.45,377.27 L1586.46,377.8 L1587.46,378.32 L1588.47,378.82 L1589.47,379.28 L1590.48,379.7 L1591.48,380.05 L1592.49,380.33 L1593.49,380.54 L1594.5,380.66 L1595.5,380.7 L1596.51,380.65 L1597.51,380.52 L1598.52,380.31 L1599.52,380.01 L1600.53,379.66 L1601.53,379.24 L1602.54,378.77 L1603.54,378.27 L1604.55,377.75 L1605.55,377.21 L1606.56,376.68 L1607.56,376.17 L1608.57,375.77 L1609.57,375.66 L1610.58,375.85 L1611.58,376.29 L1612.59,376.82 L1613.59,377.24 L1614.6,377.4 M1628.6,377.4 L1629.61,377.28 L1630.61,376.89 L1631.62,376.24 L1632.62,375.46 L1633.63,374.73 L1634.63,374.25 L1635.64,374.16 L1636.64,374.3 L1637.65,374.53 L1638.65,374.83 L1639.66,375.19 L1640.66,375.62 L1641.67,376.09 L1642.67,376.6 L1643.68,377.12 L1644.68,377.66 L1645.69,378.18 L1646.69,378.69 L1647.7,379.16 L1648.7,379.59 L1649.71,379.96 L1650.71,380.26 L1651.72,380.49 L1652.72,380.64 L1653.73,380.7 L1654.73,380.67 L1655.74,380.56 L1656.74,380.37 L1657.75,380.1 L1658.75,379.76 L1659.76,379.36 L1660.76,378.9 L1661.77,378.41 L1662.77,377.89 L1663.78,377.36 L1664.79,376.83 L1665.79,376.31 L1666.8,375.82 L1667.8,375.38 L1668.81,374.98 L1669.81,374.65 L1670.82,374.39 L1671.82,374.21 L1672.83,374.12 L1673.83,374.11 L1674.84,374.18 L1675.84,374.34 L1676.85,374.58 L1677.85,374.9 L1678.86,375.27 L1679.86,375.71 L1680.87,376.19 L1681.87,376.7 L1682.88,377.23 L1683.88,377.76 L1684.89,378.29 L1685.89,378.79 L1686.9,379.25 L1687.9,379.67 L1688.91,380.02 L1689.91,380.31 L1690.92,380.52 L1691.92,380.66 L1692.93,380.7 L1693.93,380.66 L1694.94,380.53 L1695.94,380.32 L1696.95,380.04 L1697.95,379.68 L1698.96,379.27 L1699.97,378.81 L1700.97,378.31 L1701.98,377.78 L1702.98,377.25 L1703.99,376.72 L1704.99,376.21 L1706,375.73 L1707,375.29 L1708.01,374.91 L1709.01,374.59 L1710.02,374.35 L1711.02,374.19 L1712.03,374.11 L1713.03,374.11 L1714.04,374.21 L1715.04,374.38 L1716.05,374.64 L1717.05,374.97 L1718.06,375.36 L1719.06,375.8 L1720.07,376.29 L1721.07,376.8 L1722.08,377.34 L1723.08,377.87 L1724.09,378.39 L1725.09,378.88 L1726.1,379.34 L1727.1,379.74 L1728.11,380.09 L1729.11,380.36 L1730.12,380.56 L1731.12,380.67 L1732.13,380.7 L1733.13,380.64 L1734.14,380.5 L1735.15,380.27 L1736.15,379.97 L1737.16,379.61 L1738.16,379.18 L1739.17,378.71 L1740.17,378.2 L1741.18,377.68 L1742.18,377.14 L1743.19,376.62 L1744.19,376.11 L1745.2,375.64 L1746.2,375.21 L1747.21,374.84 L1748.21,374.54 L1749.22,374.31 L1750.22,374.16 L1751.23,374.1 L1752.23,374.13 L1753.24,374.24 L1754.24,374.43 L1755.25,374.7 L1756.25,375.04 L1757.26,375.44 L1758.26,375.9 L1759.27,376.39 L1760.27,376.91 L1761.28,377.44 L1762.28,377.97 L1763.29,378.49 L1764.29,378.98 L1765.3,379.42 L1766.3,379.82 L1767.31,380.15 L1768.31,380.41 L1769.32,380.59 L1770.33,380.68 L1771.33,380.69 L1772.34,380.62 L1773.34,380.46 L1774.35,380.22 L1775.35,379.9 L1776.36,379.53 L1777.36,379.09 L1778.37,378.61 L1779.37,378.1 L1780.38,377.57 L1781.38,377.04 L1782.39,376.51 L1783.39,376.01 L1784.4,375.55 L1785.4,375.13 L1786.41,374.78 L1787.41,374.49 L1788.42,374.28 L1789.42,374.15 L1790.43,374.1 L1791.43,374.14 L1792.44,374.27 L1793.44,374.48 L1794.45,374.76 L1795.45,375.12 L1796.46,375.53 L1797.46,375.99 L1798.47,376.49 L1799.47,377.02 L1800.48,377.55 L1801.48,378.08 L1802.49,378.59 L1803.49,378.66 L1804.5,377.4 M1628.6,377.4 L1629.61,377.52 L1630.61,377.91 L1631.62,378.56 L1632.62,379.34 L1633.63,380.07 L1634.63,380.55 L1635.64,380.64 L1636.64,380.5 L1637.65,380.27 L1638.65,379.97 L1639.66,379.61 L1640.66,379.18 L1641.67,378.71 L1642.67,378.2 L1643.68,377.68 L1644.68,377.14 L1645.69,376.62 L1646.69,376.11 L1647.7,375.64 L1648.7,375.21 L1649.71,374.84 L1650.71,374.54 L1651.72,374.31 L1652.72,374.16 L1653.73,374.1 L1654.73,374.13 L1655.74,374.24 L1656.74,374.43 L1657.75,374.7 L1658.75,375.04 L1659.76,375.44 L1660.76,375.9 L1661.77,376.39 L1662.77,376.91 L1663.78,377.44 L1664.79,377.97 L1665.79,378.49 L1666.8,378.98 L1667.8,379.42 L1668.81,379.82 L1669.81,380.15 L1670.82,380.41 L1671.82,380.59 L1672.83,380.68 L1673.83,380.69 L1674.84,380.62 L1675.84,380.46 L1676.85,380.22 L1677.85,379.9 L1678.86,379.53 L1679.86,379.09 L1680.87,378.61 L1681.87,378.1 L1682.88,377.57 L1683.88,377.04 L1684.89,376.51 L1685.89,376.01 L1686.9,375.55 L1687.9,375.13 L1688.91,374.78 L1689.91,374.49 L1690.92,374.28 L1691.92,374.14 L1692.93,374.1 L1693.93,374.14 L1694.94,374.27 L1695.94,374.48 L1696.95,374.76 L1697.95,375.12 L1698.96,375.53 L1699.97,375.99 L1700.97,376.49 L1701.98,377.02 L1702.98,377.55 L1703.99,378.08 L1704.99,378.59 L1706,379.07 L1707,379.51 L1708.01,379.89 L1709.01,380.21 L1710.02,380.45 L1711.02,380.61 L1712.03,380.69 L1713.03,380.69 L1714.04,380.59 L1715.04,380.42 L1716.05,380.16 L1717.05,379.83 L1718.06,379.44 L1719.06,379 L1720.07,378.51 L1721.07,378 L1722.08,377.46 L1723.08,376.93 L1724.09,376.41 L1725.09,375.92 L1726.1,375.46 L1727.1,375.06 L1728.11,374.71 L1729.11,374.44 L1730.12,374.24 L1731.12,374.13 L1732.13,374.1 L1733.13,374.16 L1734.14,374.3 L1735.15,374.53 L1736.15,374.83 L1737.16,375.19 L1738.16,375.62 L1739.17,376.09 L1740.17,376.6 L1741.18,377.12 L1742.18,377.66 L1743.19,378.18 L1744.19,378.69 L1745.2,379.16 L1746.2,379.59 L1747.21,379.96 L1748.21,380.26 L1749.22,380.49 L1750.22,380.64 L1751.23,380.7 L1752.23,380.67 L1753.24,380.56 L1754.24,380.37 L1755.25,380.1 L1756.25,379.76 L1757.26,379.36 L1758.26,378.9 L1759.27,378.41 L1760.27,377.89 L1761.28,377.36 L1762.28,376.83 L1763.29,376.31 L1764.29,375.82 L1765.3,375.38 L1766.3,374.98 L1767.31,374.65 L1768.31,374.39 L1769.32,374.21 L1770.33,374.12 L1771.33,374.11 L1772.34,374.18 L1773.34,374.34 L1774.35,374.58 L1775.35,374.9 L1776.36,375.27 L1777.36,375.71 L1778.37,376.19 L1779.37,376.7 L1780.38,377.23 L1781.38,377.76 L1782.39,378.29 L1783.39,378.79 L1784.4,379.25 L1785.4,379.67 L1786.41,380.02 L1787.41,380.31 L1788.42,380.52 L1789.42,380.65 L1790.43,380.7 L1791.43,380.66 L1792.44,380.53 L1793.44,380.32 L1794.45,380.04 L1795.45,379.68 L1796.46,379.27 L1797.46,378.81 L1798.47,378.31 L1799.47,377.78 L1800.48,377.25 L1801.48,376.72 L1802.49,376.21 L1803.49,376.14 L1804.5,377.4 M784.6,345 L784.6,366 Q784.6,376.4 780.6,377.4 M789.1,345 L789.1,366 Q789.1,376.4 794.6,377.4 M918.7,409 L918.7,389 Q918.7,378.4 911,378.4 L905,377.4 M923.3,409 L923.3,389 Q923.3,378.4 931,378.4 L937,377.4 M1060.5,345 L1060.5,366 Q1060.5,376.4 1056.5,377.4 M1065,345 L1065,366 Q1065,376.4 1070.5,377.4 M1199.7,409 L1199.7,389 Q1199.7,378.4 1192,378.4 L1186,377.4 M1204.3,409 L1204.3,389 Q1204.3,378.4 1212,378.4 L1218,377.4 M1342,345 L1342,366 Q1342,376.4 1338,377.4 M1346.5,345 L1346.5,366 Q1346.5,376.4 1352,377.4 M1478.7,409 L1478.7,389 Q1478.7,378.4 1471,378.4 L1465,377.4 M1483.3,409 L1483.3,389 Q1483.3,378.4 1491,378.4 L1497,377.4 M1618.6,345 L1618.6,366 Q1618.6,376.4 1614.6,377.4 M1623.1,345 L1623.1,366 Q1623.1,376.4 1628.6,377.4" fill="none" stroke="#000" stroke-width="2.6" stroke-linejoin="round"/>
<path d="M620,373.5 L628.5,375 L628.5,380 L621,380 Z" fill="#000"/>
<g transform="translate(787.6,377.4)" stroke="#000" stroke-width="2.95" stroke-linejoin="round"><rect x="-11.9" y="-104" width="24" height="71" rx="2.5" fill="#e9e9e9"/><path d="M-18.3,-100 L-18.3,-141 C-18.3,-147.5 -10,-149.6 0,-149.6 C10,-149.6 17.8,-147.5 17.8,-141 L17.8,-100 Z" fill="#fff"/><ellipse cx="-0.2" cy="-141.4" rx="15" ry="8.2" fill="#fff"/><ellipse cx="0.4" cy="-99.4" rx="17" ry="8" fill="#fff"/></g>
<g transform="translate(1063.5,377.4)" stroke="#000" stroke-width="2.95" stroke-linejoin="round"><rect x="-11.9" y="-104" width="24" height="71" rx="2.5" fill="#e9e9e9"/><path d="M-18.3,-100 L-18.3,-141 C-18.3,-147.5 -10,-149.6 0,-149.6 C10,-149.6 17.8,-147.5 17.8,-141 L17.8,-100 Z" fill="#fff"/><ellipse cx="-0.2" cy="-141.4" rx="15" ry="8.2" fill="#fff"/><ellipse cx="0.4" cy="-99.4" rx="17" ry="8" fill="#fff"/></g>
<g transform="translate(1345,377.4)" stroke="#000" stroke-width="2.95" stroke-linejoin="round"><rect x="-11.9" y="-104" width="24" height="71" rx="2.5" fill="#e9e9e9"/><path d="M-18.3,-100 L-18.3,-141 C-18.3,-147.5 -10,-149.6 0,-149.6 C10,-149.6 17.8,-147.5 17.8,-141 L17.8,-100 Z" fill="#fff"/><ellipse cx="-0.2" cy="-141.4" rx="15" ry="8.2" fill="#fff"/><ellipse cx="0.4" cy="-99.4" rx="17" ry="8" fill="#fff"/></g>
<g transform="translate(1621.6,377.4)" stroke="#000" stroke-width="2.95" stroke-linejoin="round"><rect x="-11.9" y="-104" width="24" height="71" rx="2.5" fill="#e9e9e9"/><path d="M-18.3,-100 L-18.3,-141 C-18.3,-147.5 -10,-149.6 0,-149.6 C10,-149.6 17.8,-147.5 17.8,-141 L17.8,-100 Z" fill="#fff"/><ellipse cx="-0.2" cy="-141.4" rx="15" ry="8.2" fill="#fff"/><ellipse cx="0.4" cy="-99.4" rx="17" ry="8" fill="#fff"/></g>
<g transform="translate(921,377.4) scale(1,-1)" stroke="#000" stroke-width="2.95" stroke-linejoin="round"><rect x="-11.9" y="-104" width="24" height="71" rx="2.5" fill="#e9e9e9"/><path d="M-18.3,-100 L-18.3,-141 C-18.3,-147.5 -10,-149.6 0,-149.6 C10,-149.6 17.8,-147.5 17.8,-141 L17.8,-100 Z" fill="#fff"/><ellipse cx="-0.2" cy="-141.4" rx="15" ry="8.2" fill="#fff"/><ellipse cx="0.4" cy="-99.4" rx="17" ry="8" fill="#fff"/></g>
<g transform="translate(1202,377.4) scale(1,-1)" stroke="#000" stroke-width="2.95" stroke-linejoin="round"><rect x="-11.9" y="-104" width="24" height="71" rx="2.5" fill="#e9e9e9"/><path d="M-18.3,-100 L-18.3,-141 C-18.3,-147.5 -10,-149.6 0,-149.6 C10,-149.6 17.8,-147.5 17.8,-141 L17.8,-100 Z" fill="#fff"/><ellipse cx="-0.2" cy="-141.4" rx="15" ry="8.2" fill="#fff"/><ellipse cx="0.4" cy="-99.4" rx="17" ry="8" fill="#fff"/></g>
<g transform="translate(1481,377.4) scale(1,-1)" stroke="#000" stroke-width="2.95" stroke-linejoin="round"><rect x="-11.9" y="-104" width="24" height="71" rx="2.5" fill="#e9e9e9"/><path d="M-18.3,-100 L-18.3,-141 C-18.3,-147.5 -10,-149.6 0,-149.6 C10,-149.6 17.8,-147.5 17.8,-141 L17.8,-100 Z" fill="#fff"/><ellipse cx="-0.2" cy="-141.4" rx="15" ry="8.2" fill="#fff"/><ellipse cx="0.4" cy="-99.4" rx="17" ry="8" fill="#fff"/></g>
<line x1="624.5" y1="376" x2="624.5" y2="676" stroke="#000" stroke-width="2.5" stroke-linecap="butt"/>
<line x1="556.8" y1="374.5" x2="596.9" y2="374.5" stroke="#5a5a5a" stroke-width="2.6" stroke-linecap="butt"/>
<line x1="557" y1="642.2" x2="597" y2="642.2" stroke="#5a5a5a" stroke-width="2.6" stroke-linecap="butt"/>
<line x1="576.4" y1="393" x2="576.4" y2="625" stroke="#5a5a5a" stroke-width="2.3" stroke-linecap="butt" stroke-dasharray="7.8 10.1"/>
<polygon points="582.6,389.8 582.6,384.2 576.4,375.8 570.2,384.2 570.2,389.8 576.4,384.3" fill="#5a5a5a"/>
<polygon points="570.2,627 570.2,632.6 576.4,641 582.6,632.6 582.6,627 576.4,632.5" fill="#5a5a5a"/>
<text transform="translate(479.6,521) scale(0.74,1)" font-size="37.35" word-spacing="3.92" textLength="103.24" lengthAdjust="spacing" fill="#5a5a5a" stroke="#5a5a5a" stroke-width="0.52">50CM</text>
<line x1="922.4" y1="533" x2="922.4" y2="637.6" stroke="#5a5a5a" stroke-width="2.6" stroke-linecap="butt"/>
<line x1="1202.2" y1="533" x2="1202.2" y2="637.6" stroke="#5a5a5a" stroke-width="2.6" stroke-linecap="butt"/>
<line x1="937" y1="580.2" x2="1188" y2="580.2" stroke="#5a5a5a" stroke-width="2.6" stroke-linecap="butt" stroke-dasharray="7.5 7.5"/>
<polygon points="935.5,574.1 929.9,574.1 923.5,580.2 929.9,586.3 935.5,586.3 931,580.2" fill="#5a5a5a"/>
<polygon points="1189.1,586.3 1194.7,586.3 1201.1,580.2 1194.7,574.1 1189.1,574.1 1193.6,580.2" fill="#5a5a5a"/>
<text transform="translate(1026,625.2) scale(0.74,1)" font-size="37.79" word-spacing="3.97" textLength="102.03" lengthAdjust="spacing" fill="#5a5a5a" stroke="#5a5a5a" stroke-width="0.53">10CM</text>
<line x1="1203.4" y1="675" x2="1203.4" y2="1437" stroke="#000" stroke-width="6.3" stroke-linecap="butt"/>
<g transform="translate(1594.8,624) scale(1)" stroke="#000" stroke-width="2.8" stroke-linejoin="round"><rect x="0" y="-11.9" width="66" height="23.8" rx="3.2" fill="#e9e9e9"/><path d="M70,-18.6 L109,-18.6 C115,-18.6 119,-9 119,-0.5 C119,8 115,16.9 109,16.9 L70,16.9 Z" fill="#fff"/><ellipse cx="109.5" cy="-0.6" rx="7.6" ry="16.4" fill="#fff"/><ellipse cx="66.6" cy="0.3" rx="7.8" ry="17.3" fill="#fff"/></g>
<line x1="1594.4" y1="648.2" x2="1594.4" y2="691.7" stroke="#5a5a5a" stroke-width="2.7" stroke-linecap="butt"/>
<line x1="1711.6" y1="648.2" x2="1711.6" y2="691.7" stroke="#5a5a5a" stroke-width="2.7" stroke-linecap="butt"/>
<line x1="1610" y1="668.4" x2="1696" y2="668.4" stroke="#5a5a5a" stroke-width="2.4" stroke-linecap="butt" stroke-dasharray="7.4 7.7"/>
<polygon points="1606.8,662.2 1601.2,662.2 1595.5,668.4 1601.2,674.6 1606.8,674.6 1602,668.4" fill="#5a5a5a"/>
<polygon points="1699.2,674.6 1704.8,674.6 1710.5,668.4 1704.8,662.2 1699.2,662.2 1704,668.4" fill="#5a5a5a"/>
<text transform="translate(1610.5,714.6) scale(0.74,1)" font-size="36.77" word-spacing="3.86" textLength="111.49" lengthAdjust="spacing" fill="#5a5a5a" stroke="#5a5a5a" stroke-width="0.51">28MM</text>
<path d="M199.8,1014.5 L199.32,1015.51 L198.77,1016.51 L198.23,1017.52 L197.8,1018.52 L197.58,1019.53 L197.97,1020.54 L198.46,1021.54 L199.03,1022.55 L199.65,1023.56 L200.27,1024.56 L200.87,1025.57 L201.41,1026.58 L201.85,1027.58 L202.17,1028.59 L202.36,1029.59 L202.4,1030.6 L202.28,1031.61 L202.03,1032.61 L201.64,1033.62 L201.15,1034.62 L200.58,1035.63 L199.96,1036.64 L199.34,1037.64 L198.74,1038.65 L198.2,1039.66 L197.76,1040.66 L197.43,1041.67 L197.24,1042.67 L197.2,1043.68 L197.31,1044.69 L197.57,1045.69 L197.95,1046.7 L198.44,1047.71 L199.01,1048.71 L199.62,1049.72 L200.25,1050.72 L200.85,1051.73 L201.39,1052.74 L201.83,1053.74 L202.16,1054.75 L202.35,1055.76 L202.4,1056.76 L202.29,1057.77 L202.04,1058.78 L201.66,1059.78 L201.17,1060.79 L200.6,1061.79 L199.99,1062.8 L199.36,1063.81 L198.76,1064.81 L198.22,1065.82 L197.77,1066.83 L197.44,1067.83 L197.25,1068.84 L197.2,1069.84 L197.31,1070.85 L197.56,1071.86 L197.93,1072.86 L198.42,1073.87 L198.99,1074.88 L199.6,1075.88 L200.23,1076.89 L200.83,1077.89 L201.37,1078.9 L201.82,1079.91 L202.15,1080.91 L202.35,1081.92 L202.4,1082.92 L202.3,1083.93 L202.05,1084.94 L201.67,1085.94 L201.19,1086.95 L200.62,1087.96 L200.01,1088.96 L199.38,1089.97 L198.98,1090.97 L198.86,1091.98 L198.99,1092.99 L199.33,1093.99 L199.8,1095 M199.8,1014.5 L200.28,1015.51 L200.83,1016.51 L201.37,1017.52 L201.8,1018.52 L202.02,1019.53 L201.63,1020.54 L201.14,1021.54 L200.57,1022.55 L199.95,1023.56 L199.33,1024.56 L198.73,1025.57 L198.19,1026.58 L197.75,1027.58 L197.43,1028.59 L197.24,1029.59 L197.2,1030.6 L197.32,1031.61 L197.57,1032.61 L197.96,1033.62 L198.45,1034.62 L199.02,1035.63 L199.64,1036.64 L200.26,1037.64 L200.86,1038.65 L201.4,1039.66 L201.84,1040.66 L202.17,1041.67 L202.36,1042.67 L202.4,1043.68 L202.29,1044.69 L202.03,1045.69 L201.65,1046.7 L201.16,1047.71 L200.59,1048.71 L199.98,1049.72 L199.35,1050.72 L198.75,1051.73 L198.21,1052.74 L197.77,1053.74 L197.44,1054.75 L197.25,1055.76 L197.2,1056.76 L197.31,1057.77 L197.56,1058.78 L197.94,1059.78 L198.43,1060.79 L199,1061.79 L199.61,1062.8 L200.24,1063.81 L200.84,1064.81 L201.38,1065.82 L201.83,1066.83 L202.16,1067.83 L202.35,1068.84 L202.4,1069.84 L202.29,1070.85 L202.04,1071.86 L201.67,1072.86 L201.18,1073.87 L200.61,1074.88 L200,1075.88 L199.37,1076.89 L198.77,1077.89 L198.23,1078.9 L197.78,1079.91 L197.45,1080.91 L197.25,1081.92 L197.2,1082.92 L197.3,1083.93 L197.55,1084.94 L197.93,1085.94 L198.41,1086.95 L198.98,1087.96 L199.59,1088.96 L200.22,1089.97 L200.62,1090.97 L200.74,1091.98 L200.61,1092.99 L200.27,1093.99 L199.8,1095 M199.8,1111 L200.19,1112 L200.39,1113 L200.35,1114 L200.05,1115.01 L199.48,1116.01 L198.88,1117.01 L198.33,1118.01 L197.86,1119.01 L197.5,1120.01 L197.28,1121.01 L197.2,1122.02 L197.27,1123.02 L197.48,1124.02 L197.83,1125.02 L198.29,1126.02 L198.84,1127.02 L199.44,1128.02 L200.06,1129.03 L200.67,1130.03 L201.23,1131.03 L201.71,1132.03 L202.07,1133.03 L202.31,1134.03 L202.4,1135.03 L202.34,1136.04 L202.14,1137.04 L201.8,1138.04 L201.35,1139.04 L200.81,1140.04 L200.21,1141.04 L199.59,1142.04 L198.98,1143.05 L198.41,1144.05 L197.93,1145.05 L197.55,1146.05 L197.31,1147.05 L197.2,1148.05 L197.25,1149.05 L197.44,1150.05 L197.77,1151.06 L198.21,1152.06 L198.75,1153.06 L199.34,1154.06 L199.96,1155.06 L200.58,1156.06 L201.14,1157.06 L201.63,1158.07 L202.02,1159.07 L202.28,1160.07 L202.39,1161.07 L202.36,1162.07 L202.18,1163.07 L201.86,1164.07 L201.43,1165.08 L200.9,1166.08 L200.31,1167.08 L199.69,1168.08 L199.07,1169.08 L198.5,1170.08 L198,1171.08 L197.61,1172.09 L197.34,1173.09 L197.21,1174.09 L197.23,1175.09 L197.4,1176.09 L197.71,1177.09 L198.13,1178.09 L198.65,1179.1 L199.24,1180.1 L199.86,1181.1 L200.48,1182.1 L201.06,1183.1 L201.56,1184.1 L201.97,1185.1 L202.25,1186.11 L202.39,1187.11 L202.38,1188.11 L202.22,1189.11 L201.92,1190.11 L201.51,1191.11 L200.99,1192.11 L200.41,1193.12 L199.79,1194.12 L199.17,1195.12 L198.59,1196.12 L198.08,1197.12 L197.66,1198.12 L197.37,1199.12 L197.22,1200.13 L197.22,1201.13 L197.36,1202.13 L197.65,1203.13 L198.05,1204.13 L198.56,1205.13 L199.14,1206.13 L199.76,1207.14 L200.38,1208.14 L200.97,1209.14 L201.48,1210.14 L201.91,1211.14 L202.21,1212.14 L202.37,1213.14 L202.39,1214.15 L202.26,1215.15 L201.98,1216.15 L201.58,1217.15 L201.08,1218.15 L200.51,1219.15 L199.89,1220.15 L199.27,1221.15 L198.68,1222.16 L198.15,1223.16 L197.72,1224.16 L197.41,1225.16 L197.24,1226.16 L197.21,1227.16 L197.33,1228.16 L197.59,1229.17 L197.98,1230.17 L198.47,1231.17 L199.04,1232.17 L199.66,1233.17 L200.28,1234.17 L200.87,1235.17 L201.41,1236.18 L201.85,1237.18 L202.17,1238.18 L202.36,1239.18 L202.4,1240.18 L202.29,1241.18 L202.04,1242.18 L201.66,1243.19 L201.17,1244.19 L200.6,1245.19 L199.99,1246.19 L199.37,1247.19 L198.77,1248.19 L198.55,1249.19 L198.59,1250.2 L198.86,1251.2 L199.29,1252.2 L199.8,1253.2 M199.8,1111 L199.41,1112 L199.21,1113 L199.25,1114 L199.55,1115.01 L200.12,1116.01 L200.72,1117.01 L201.27,1118.01 L201.74,1119.01 L202.1,1120.01 L202.32,1121.01 L202.4,1122.02 L202.33,1123.02 L202.12,1124.02 L201.77,1125.02 L201.31,1126.02 L200.76,1127.02 L200.16,1128.02 L199.54,1129.03 L198.93,1130.03 L198.37,1131.03 L197.89,1132.03 L197.53,1133.03 L197.29,1134.03 L197.2,1135.03 L197.26,1136.04 L197.46,1137.04 L197.8,1138.04 L198.25,1139.04 L198.79,1140.04 L199.39,1141.04 L200.01,1142.04 L200.62,1143.05 L201.19,1144.05 L201.67,1145.05 L202.05,1146.05 L202.29,1147.05 L202.4,1148.05 L202.35,1149.05 L202.16,1150.05 L201.83,1151.06 L201.39,1152.06 L200.85,1153.06 L200.26,1154.06 L199.64,1155.06 L199.02,1156.06 L198.46,1157.06 L197.97,1158.07 L197.58,1159.07 L197.32,1160.07 L197.21,1161.07 L197.24,1162.07 L197.42,1163.07 L197.74,1164.07 L198.17,1165.08 L198.7,1166.08 L199.29,1167.08 L199.91,1168.08 L200.53,1169.08 L201.1,1170.08 L201.6,1171.08 L201.99,1172.09 L202.26,1173.09 L202.39,1174.09 L202.37,1175.09 L202.2,1176.09 L201.89,1177.09 L201.47,1178.09 L200.95,1179.1 L200.36,1180.1 L199.74,1181.1 L199.12,1182.1 L198.54,1183.1 L198.04,1184.1 L197.63,1185.1 L197.35,1186.11 L197.21,1187.11 L197.22,1188.11 L197.38,1189.11 L197.68,1190.11 L198.09,1191.11 L198.61,1192.11 L199.19,1193.12 L199.81,1194.12 L200.43,1195.12 L201.01,1196.12 L201.52,1197.12 L201.94,1198.12 L202.23,1199.12 L202.38,1200.13 L202.38,1201.13 L202.24,1202.13 L201.95,1203.13 L201.55,1204.13 L201.04,1205.13 L200.46,1206.13 L199.84,1207.14 L199.22,1208.14 L198.63,1209.14 L198.12,1210.14 L197.69,1211.14 L197.39,1212.14 L197.23,1213.14 L197.21,1214.15 L197.34,1215.15 L197.62,1216.15 L198.02,1217.15 L198.52,1218.15 L199.09,1219.15 L199.71,1220.15 L200.33,1221.15 L200.92,1222.16 L201.45,1223.16 L201.88,1224.16 L202.19,1225.16 L202.36,1226.16 L202.39,1227.16 L202.27,1228.16 L202.01,1229.17 L201.62,1230.17 L201.13,1231.17 L200.56,1232.17 L199.94,1233.17 L199.32,1234.17 L198.73,1235.17 L198.19,1236.18 L197.75,1237.18 L197.43,1238.18 L197.24,1239.18 L197.2,1240.18 L197.31,1241.18 L197.56,1242.18 L197.94,1243.19 L198.43,1244.19 L199,1245.19 L199.61,1246.19 L200.23,1247.19 L200.83,1248.19 L201.05,1249.19 L201.01,1250.2 L200.74,1251.2 L200.31,1252.2 L199.8,1253.2 M199.8,1269.2 L200.09,1270.2 L200.17,1271.2 L199.99,1272.2 L199.55,1273.21 L198.88,1274.21 L198.33,1275.21 L197.86,1276.21 L197.5,1277.21 L197.28,1278.21 L197.2,1279.21 L197.27,1280.22 L197.48,1281.22 L197.83,1282.22 L198.29,1283.22 L198.84,1284.22 L199.44,1285.22 L200.06,1286.22 L200.67,1287.23 L201.23,1288.23 L201.7,1289.23 L202.07,1290.23 L202.31,1291.23 L202.4,1292.23 L202.34,1293.23 L202.14,1294.24 L201.8,1295.24 L201.35,1296.24 L200.81,1297.24 L200.21,1298.24 L199.59,1299.24 L198.98,1300.24 L198.41,1301.25 L197.93,1302.25 L197.55,1303.25 L197.31,1304.25 L197.2,1305.25 L197.25,1306.25 L197.44,1307.25 L197.77,1308.25 L198.21,1309.26 L198.74,1310.26 L199.34,1311.26 L199.96,1312.26 L200.57,1313.26 L201.14,1314.26 L201.63,1315.26 L202.02,1316.27 L202.28,1317.27 L202.39,1318.27 L202.36,1319.27 L202.18,1320.27 L201.86,1321.27 L201.43,1322.27 L200.9,1323.28 L200.31,1324.28 L199.69,1325.28 L199.07,1326.28 L198.5,1327.28 L198,1328.28 L197.61,1329.28 L197.34,1330.29 L197.21,1331.29 L197.23,1332.29 L197.4,1333.29 L197.7,1334.29 L198.13,1335.29 L198.65,1336.29 L199.24,1337.3 L199.86,1338.3 L200.48,1339.3 L201.05,1340.3 L201.56,1341.3 L201.96,1342.3 L202.25,1343.3 L202.39,1344.31 L202.38,1345.31 L202.22,1346.31 L201.93,1347.31 L201.51,1348.31 L200.99,1349.31 L200.41,1350.31 L199.79,1351.32 L199.17,1352.32 L198.59,1353.32 L198.08,1354.32 L197.66,1355.32 L197.37,1356.32 L197.22,1357.32 L197.22,1358.33 L197.36,1359.33 L197.65,1360.33 L198.05,1361.33 L198.56,1362.33 L199.14,1363.33 L199.76,1364.33 L200.38,1365.34 L200.96,1366.34 L201.48,1367.34 L201.91,1368.34 L202.21,1369.34 L202.37,1370.34 L202.39,1371.34 L202.26,1372.35 L201.98,1373.35 L201.58,1374.35 L201.08,1375.35 L200.51,1376.35 L199.89,1377.35 L199.27,1378.35 L198.68,1379.35 L198.16,1380.36 L197.72,1381.36 L197.41,1382.36 L197.24,1383.36 L197.21,1384.36 L197.33,1385.36 L197.59,1386.36 L197.98,1387.37 L198.47,1388.37 L199.04,1389.37 L199.66,1390.37 L200.28,1391.37 L200.87,1392.37 L201.41,1393.37 L201.85,1394.38 L202.17,1395.38 L202.36,1396.38 L202.4,1397.38 L202.29,1398.38 L202.04,1399.38 L201.66,1400.38 L201.17,1401.39 L200.61,1402.39 L199.99,1403.39 L199.37,1404.39 L198.77,1405.39 L198.24,1406.39 L198.19,1407.39 L198.39,1408.4 L198.78,1409.4 L199.28,1410.4 L199.8,1411.4 M199.8,1269.2 L199.51,1270.2 L199.43,1271.2 L199.61,1272.2 L200.05,1273.21 L200.72,1274.21 L201.27,1275.21 L201.74,1276.21 L202.1,1277.21 L202.32,1278.21 L202.4,1279.21 L202.33,1280.22 L202.12,1281.22 L201.77,1282.22 L201.31,1283.22 L200.76,1284.22 L200.16,1285.22 L199.54,1286.22 L198.93,1287.23 L198.37,1288.23 L197.9,1289.23 L197.53,1290.23 L197.29,1291.23 L197.2,1292.23 L197.26,1293.23 L197.46,1294.24 L197.8,1295.24 L198.25,1296.24 L198.79,1297.24 L199.39,1298.24 L200.01,1299.24 L200.62,1300.24 L201.19,1301.25 L201.67,1302.25 L202.05,1303.25 L202.29,1304.25 L202.4,1305.25 L202.35,1306.25 L202.16,1307.25 L201.83,1308.25 L201.39,1309.26 L200.86,1310.26 L200.26,1311.26 L199.64,1312.26 L199.03,1313.26 L198.46,1314.26 L197.97,1315.26 L197.58,1316.27 L197.32,1317.27 L197.21,1318.27 L197.24,1319.27 L197.42,1320.27 L197.74,1321.27 L198.17,1322.27 L198.7,1323.28 L199.29,1324.28 L199.91,1325.28 L200.53,1326.28 L201.1,1327.28 L201.6,1328.28 L201.99,1329.28 L202.26,1330.29 L202.39,1331.29 L202.37,1332.29 L202.2,1333.29 L201.9,1334.29 L201.47,1335.29 L200.95,1336.29 L200.36,1337.3 L199.74,1338.3 L199.12,1339.3 L198.55,1340.3 L198.04,1341.3 L197.64,1342.3 L197.35,1343.3 L197.21,1344.31 L197.22,1345.31 L197.38,1346.31 L197.67,1347.31 L198.09,1348.31 L198.61,1349.31 L199.19,1350.31 L199.81,1351.32 L200.43,1352.32 L201.01,1353.32 L201.52,1354.32 L201.94,1355.32 L202.23,1356.32 L202.38,1357.32 L202.38,1358.33 L202.24,1359.33 L201.95,1360.33 L201.55,1361.33 L201.04,1362.33 L200.46,1363.33 L199.84,1364.33 L199.22,1365.34 L198.64,1366.34 L198.12,1367.34 L197.69,1368.34 L197.39,1369.34 L197.23,1370.34 L197.21,1371.34 L197.34,1372.35 L197.62,1373.35 L198.02,1374.35 L198.52,1375.35 L199.09,1376.35 L199.71,1377.35 L200.33,1378.35 L200.92,1379.35 L201.44,1380.36 L201.88,1381.36 L202.19,1382.36 L202.36,1383.36 L202.39,1384.36 L202.27,1385.36 L202.01,1386.36 L201.62,1387.37 L201.13,1388.37 L200.56,1389.37 L199.94,1390.37 L199.32,1391.37 L198.73,1392.37 L198.19,1393.37 L197.75,1394.38 L197.43,1395.38 L197.24,1396.38 L197.2,1397.38 L197.31,1398.38 L197.56,1399.38 L197.94,1400.38 L198.43,1401.39 L198.99,1402.39 L199.61,1403.39 L200.23,1404.39 L200.83,1405.39 L201.36,1406.39 L201.41,1407.39 L201.21,1408.4 L200.82,1409.4 L200.32,1410.4 L199.8,1411.4 M199.8,1427.4 L199.98,1428.4 L199.92,1429.41 L199.61,1430.41 L199.06,1431.41 L198.32,1432.42 L197.86,1433.42 L197.5,1434.43 L197.28,1435.43 L197.2,1436.43 L197.27,1437.44 L197.49,1438.44 L197.84,1439.44 L198.31,1440.45 L198.86,1441.45 L199.46,1442.45 L200.09,1443.46 L200.69,1444.46 L201.25,1445.47 L201.72,1446.47 L202.08,1447.47 L202.31,1448.48 L202.4,1449.48 L202.34,1450.48 L202.12,1451.49 L201.78,1452.49 L201.32,1453.49 L200.77,1454.5 L200.17,1455.5 L199.55,1456.51 L198.94,1457.51 L198.38,1458.51 L197.9,1459.52 L197.53,1460.52 L197.29,1461.52 L197.2,1462.53 L197.26,1463.53 L197.46,1464.53 L197.8,1465.54 L198.25,1466.54 L198.8,1467.55 L199.4,1468.55 L200.02,1469.55 L200.63,1470.56 L201.19,1471.56 L201.68,1472.56 L202.05,1473.57 L202.3,1474.57 L202.4,1475.57 L202.35,1476.58 L202.15,1477.58 L201.82,1478.59 L201.37,1479.59 L200.84,1480.59 L200.24,1481.6 L199.61,1482.6 L199,1483.6 L198.43,1484.61 L197.95,1485.61 L197.56,1486.61 L197.31,1487.62 L197.2,1488.62 L197.24,1489.63 L197.43,1490.63 L197.76,1491.63 L198.2,1492.64 L198.73,1493.64 L199.33,1494.64 L199.95,1495.65 L200.57,1496.65 L201.14,1497.65 L201.63,1498.66 L202.02,1499.66 L202.28,1500.67 L202.39,1501.67 L202.36,1502.67 L202.18,1503.68 L201.86,1504.68 L201.43,1505.68 L200.9,1506.69 L200.3,1507.69 L199.68,1508.69 L199.06,1509.7 L198.49,1510.7 L197.99,1511.71 L197.6,1512.71 L197.33,1513.71 L197.21,1514.72 L197.23,1515.72 L197.41,1516.72 L197.72,1517.73 L198.15,1518.73 L198.68,1519.73 L199.27,1520.74 L199.89,1521.74 L200.51,1522.75 L201.08,1523.75 L201.58,1524.75 L201.98,1525.76 L202.26,1526.76 L202.39,1527.76 L202.37,1528.77 L202.21,1529.77 L201.9,1530.77 L201.48,1531.78 L200.95,1532.78 L200.25,1533.79 L199.77,1534.79 L199.53,1535.79 L199.55,1536.8 L199.8,1537.8 M199.8,1427.4 L199.62,1428.4 L199.68,1429.41 L199.99,1430.41 L200.54,1431.41 L201.28,1432.42 L201.74,1433.42 L202.1,1434.43 L202.32,1435.43 L202.4,1436.43 L202.33,1437.44 L202.11,1438.44 L201.76,1439.44 L201.29,1440.45 L200.74,1441.45 L200.14,1442.45 L199.51,1443.46 L198.91,1444.46 L198.35,1445.47 L197.88,1446.47 L197.52,1447.47 L197.29,1448.48 L197.2,1449.48 L197.26,1450.48 L197.48,1451.49 L197.82,1452.49 L198.28,1453.49 L198.83,1454.5 L199.43,1455.5 L200.05,1456.51 L200.66,1457.51 L201.22,1458.51 L201.7,1459.52 L202.07,1460.52 L202.31,1461.52 L202.4,1462.53 L202.34,1463.53 L202.14,1464.53 L201.8,1465.54 L201.35,1466.54 L200.8,1467.55 L200.2,1468.55 L199.58,1469.55 L198.97,1470.56 L198.41,1471.56 L197.92,1472.56 L197.55,1473.57 L197.3,1474.57 L197.2,1475.57 L197.25,1476.58 L197.45,1477.58 L197.78,1478.59 L198.23,1479.59 L198.76,1480.59 L199.36,1481.6 L199.99,1482.6 L200.6,1483.6 L201.17,1484.61 L201.65,1485.61 L202.04,1486.61 L202.29,1487.62 L202.4,1488.62 L202.36,1489.63 L202.17,1490.63 L201.84,1491.63 L201.4,1492.64 L200.87,1493.64 L200.27,1494.64 L199.65,1495.65 L199.03,1496.65 L198.46,1497.65 L197.97,1498.66 L197.58,1499.66 L197.32,1500.67 L197.21,1501.67 L197.24,1502.67 L197.42,1503.68 L197.74,1504.68 L198.17,1505.68 L198.7,1506.69 L199.3,1507.69 L199.92,1508.69 L200.54,1509.7 L201.11,1510.7 L201.61,1511.71 L202,1512.71 L202.27,1513.71 L202.39,1514.72 L202.37,1515.72 L202.19,1516.72 L201.88,1517.73 L201.45,1518.73 L200.92,1519.73 L200.33,1520.74 L199.71,1521.74 L199.09,1522.75 L198.52,1523.75 L198.02,1524.75 L197.62,1525.76 L197.34,1526.76 L197.21,1527.76 L197.23,1528.77 L197.39,1529.77 L197.7,1530.77 L198.12,1531.78 L198.65,1532.78 L199.35,1533.79 L199.83,1534.79 L200.07,1535.79 L200.05,1536.8 L199.8,1537.8" fill="none" stroke="#000" stroke-width="1.9"/>
<path d="M197.5,1022 C197.5,1016 199,1014 200,1014 C201.5,1014 202.5,1016 202.5,1022 Z" fill="#000"/>
<path d="M199.8,1095 Q200,1102 207,1102.1 L221,1102.1 M199.8,1111 Q200,1104 207,1103.9 L221,1103.9" fill="none" stroke="#000" stroke-width="2.1"/>
<g transform="translate(220.8,1103) scale(0.66)" stroke="#000" stroke-width="3.21" stroke-linejoin="round"><rect x="0" y="-11.9" width="66" height="23.8" rx="3.2" fill="#e9e9e9"/><path d="M70,-18.6 L109,-18.6 C115,-18.6 119,-9 119,-0.5 C119,8 115,16.9 109,16.9 L70,16.9 Z" fill="#fff"/><ellipse cx="109.5" cy="-0.6" rx="7.6" ry="16.4" fill="#fff"/><ellipse cx="66.6" cy="0.3" rx="7.8" ry="17.3" fill="#fff"/></g>
<path d="M199.8,1253.2 Q200,1260.2 207,1260.3 L221,1260.3 M199.8,1269.2 Q200,1262.2 207,1262.1 L221,1262.1" fill="none" stroke="#000" stroke-width="2.1"/>
<g transform="translate(220.8,1261.2) scale(0.66)" stroke="#000" stroke-width="3.21" stroke-linejoin="round"><rect x="0" y="-11.9" width="66" height="23.8" rx="3.2" fill="#e9e9e9"/><path d="M70,-18.6 L109,-18.6 C115,-18.6 119,-9 119,-0.5 C119,8 115,16.9 109,16.9 L70,16.9 Z" fill="#fff"/><ellipse cx="109.5" cy="-0.6" rx="7.6" ry="16.4" fill="#fff"/><ellipse cx="66.6" cy="0.3" rx="7.8" ry="17.3" fill="#fff"/></g>
<path d="M199.8,1411.4 Q200,1418.4 207,1418.5 L221,1418.5 M199.8,1427.4 Q200,1420.4 207,1420.3 L221,1420.3" fill="none" stroke="#000" stroke-width="2.1"/>
<g transform="translate(220.8,1419.4) scale(0.66)" stroke="#000" stroke-width="3.21" stroke-linejoin="round"><rect x="0" y="-11.9" width="66" height="23.8" rx="3.2" fill="#e9e9e9"/><path d="M70,-18.6 L109,-18.6 C115,-18.6 119,-9 119,-0.5 C119,8 115,16.9 109,16.9 L70,16.9 Z" fill="#fff"/><ellipse cx="109.5" cy="-0.6" rx="7.6" ry="16.4" fill="#fff"/><ellipse cx="66.6" cy="0.3" rx="7.8" ry="17.3" fill="#fff"/></g>
<line x1="302" y1="1261.5" x2="342" y2="1261.5" stroke="#5a5a5a" stroke-width="2.6" stroke-linecap="butt"/>
<line x1="302" y1="1419.8" x2="342" y2="1419.8" stroke="#5a5a5a" stroke-width="2.6" stroke-linecap="butt"/>
<line x1="321.5" y1="1278" x2="321.5" y2="1404" stroke="#5a5a5a" stroke-width="2.4" stroke-linecap="butt" stroke-dasharray="7.5 7.5"/>
<polygon points="327.6,1274.6 327.6,1269 321.5,1262.6 315.4,1269 315.4,1274.6 321.5,1270.1" fill="#5a5a5a"/>
<polygon points="315.4,1406.7 315.4,1412.3 321.5,1418.7 327.6,1412.3 327.6,1406.7 321.5,1411.2" fill="#5a5a5a"/>
<text transform="translate(350.5,1353.7) scale(0.74,1)" font-size="35.9" word-spacing="3.77" textLength="103.38" lengthAdjust="spacing" fill="#5a5a5a" stroke="#5a5a5a" stroke-width="0.5">10CM</text>
<text transform="translate(671,1247) scale(0.74,1)" font-size="37.35" word-spacing="3.92" textLength="648.65" lengthAdjust="spacing" fill="#5a5a5a" stroke="#5a5a5a" stroke-width="0.52">PRESS BUTTON TO ADJUST MODES</text>
<text transform="translate(981.5,1322.8) scale(0.74,1)" font-size="36.34" word-spacing="3.82" textLength="120.27" lengthAdjust="spacing" fill="#5a5a5a" stroke="#5a5a5a" stroke-width="0.51">PRESS</text>
<text transform="translate(205,1707.4) scale(0.74,1)" font-size="67.59" word-spacing="7.1" textLength="762.84" lengthAdjust="spacing" fill="#5a5a5a" stroke="#5a5a5a" stroke-width="0.95">SAFE BATTERY POWER</text>
<path d="M980,1436.3 L1260.5,1436.3 Q1276.5,1436.3 1276.5,1452.3 L1276.5,1901 Q1276.5,1917 1260.5,1917 L980,1917 Q964,1917 964,1901 L964,1452.3 Q964,1436.3 980,1436.3 Z" fill="#fff" stroke="#000" stroke-width="3.8" stroke-linejoin="round" stroke-linecap="round"/>
<path d="M986,1446 L1255.7,1446 Q1267.7,1446 1267.7,1458 L1267.7,1896 Q1267.7,1908 1255.7,1908 L986,1908 Q973.8,1908 973.8,1896 L973.8,1458 Q973.8,1446 986,1446 Z" fill="none" stroke="#000" stroke-width="3.8" stroke-linejoin="round" stroke-linecap="round"/>
<path d="M1087.3,1435 L1087.3,1424 A33.45,32.5 0 0 1 1154.2,1424 L1154.2,1435" fill="none" stroke="#000" stroke-width="3.6" stroke-linejoin="round" stroke-linecap="round"/>
<path d="M1104,1435 L1104,1421 A17.15,15.5 0 0 1 1138.3,1421 L1138.3,1435" fill="none" stroke="#000" stroke-width="3.6" stroke-linejoin="round" stroke-linecap="round"/>
<ellipse cx="1025.7" cy="1488.2" rx="34.6" ry="35.6" fill="none" stroke="#000" stroke-width="3.4"/>
<ellipse cx="1025.7" cy="1487.6" rx="13" ry="14" fill="none" stroke="#000" stroke-width="3.6"/>
<path d="M992.2,1549.8 L1248.3,1549.8 L1248.3,1887 L992.2,1887 Z" fill="none" stroke="#000" stroke-width="4" stroke-linejoin="round" stroke-linecap="round"/>
<path d="M1081.3,1549.8 L1081.3,1857.6 L1159.2,1857.6 L1159.2,1549.8" fill="none" stroke="#000" stroke-width="3.4" stroke-linejoin="round" stroke-linecap="round"/>
<path d="M992.2,1578.6 L1071,1578.6 L1071,1887" fill="none" stroke="#000" stroke-width="3.6" stroke-linejoin="round" stroke-linecap="round"/>
<path d="M1248.3,1578.6 L1170.7,1578.6 L1170.7,1887" fill="none" stroke="#000" stroke-width="3.6" stroke-linejoin="round" stroke-linecap="round"/>
<rect x="1018.9" y="1567" width="24.6" height="11.6" fill="#000"/>
<rect x="1196.5" y="1567" width="24.6" height="11.6" fill="#000"/>
<rect x="1108" y="1857" width="24" height="13.7" fill="#000"/>
<path d="M925.5,1478.2 L973.8,1478.2 L973.8,1516.6 L925.5,1516.6 Q922.8,1516.6 922.8,1513.6 L922.8,1481.2 Q922.8,1478.2 925.5,1478.2 Z" fill="#fff" stroke="#000" stroke-width="3.8" stroke-linejoin="round" stroke-linecap="round"/>
<path d="M956.2,1478.2 L956.2,1516.6" fill="none" stroke="#000" stroke-width="3.6" stroke-linejoin="round" stroke-linecap="round"/>
<path d="M925.5,1587.4 L973.8,1587.4 L973.8,1626.2 L925.5,1626.2 Q922.8,1626.2 922.8,1623.2 L922.8,1590.4 Q922.8,1587.4 925.5,1587.4 Z" fill="#fff" stroke="#000" stroke-width="3.8" stroke-linejoin="round" stroke-linecap="round"/>
<path d="M956.2,1587.4 L956.2,1626.2" fill="none" stroke="#000" stroke-width="3.6" stroke-linejoin="round" stroke-linecap="round"/>
<path d="M925.5,1724 L973.8,1724 L973.8,1768.5 L925.5,1768.5 Q922.8,1768.5 922.8,1765.5 L922.8,1727 Q922.8,1724 925.5,1724 Z" fill="#fff" stroke="#000" stroke-width="3.8" stroke-linejoin="round" stroke-linecap="round"/>
<path d="M956.2,1724 L956.2,1768.5" fill="none" stroke="#000" stroke-width="3.6" stroke-linejoin="round" stroke-linecap="round"/>
<path d="M925.5,1833.7 L973.8,1833.7 L973.8,1879.4 L925.5,1879.4 Q922.8,1879.4 922.8,1876.4 L922.8,1836.7 Q922.8,1833.7 925.5,1833.7 Z" fill="#fff" stroke="#000" stroke-width="3.8" stroke-linejoin="round" stroke-linecap="round"/>
<path d="M956.2,1833.7 L956.2,1879.4" fill="none" stroke="#000" stroke-width="3.6" stroke-linejoin="round" stroke-linecap="round"/>
<rect x="928.2" y="1516.6" width="6.4" height="60.8" fill="#000"/>
<path d="M944,1516.6 L944,1587.4" fill="none" stroke="#000" stroke-width="3.8" stroke-linejoin="round" stroke-linecap="round"/>
<rect x="928.2" y="1768.5" width="6.4" height="55.2" fill="#000"/>
<path d="M944,1768.5 L944,1833.7" fill="none" stroke="#000" stroke-width="3.8" stroke-linejoin="round" stroke-linecap="round"/>
<path d="M1267.7,1480.6 L1297,1480.6 Q1299.6,1480.6 1299.6,1483.6 L1299.6,1522.9 Q1299.6,1525.9 1297,1525.9 L1267.7,1525.9 Z" fill="#fff" stroke="#000" stroke-width="3.8" stroke-linejoin="round" stroke-linecap="round"/>
<path d="M1267.7,1570.6 L1297,1570.6 Q1299.6,1570.6 1299.6,1573.6 L1299.6,1618.2 Q1299.6,1621.2 1297,1621.2 L1267.7,1621.2 Z" fill="#fff" stroke="#000" stroke-width="3.8" stroke-linejoin="round" stroke-linecap="round"/>
<path d="M1267.7,1716 L1297,1716 Q1299.6,1716 1299.6,1719 L1299.6,1765.5 Q1299.6,1768.5 1297,1768.5 L1267.7,1768.5 Z" fill="#fff" stroke="#000" stroke-width="3.8" stroke-linejoin="round" stroke-linecap="round"/>
<path d="M1267.7,1812 L1297,1812 Q1299.6,1812 1299.6,1815 L1299.6,1868.7 Q1299.6,1871.7 1297,1871.7 L1267.7,1871.7 Z" fill="#fff" stroke="#000" stroke-width="3.8" stroke-linejoin="round" stroke-linecap="round"/>
<path d="M1267.7,1496.4 L1299.6,1496.4 M1267.7,1604 C1280,1602 1290,1600 1299.6,1598" fill="none" stroke="#000" stroke-width="3.6" stroke-linejoin="round" stroke-linecap="round"/>
<path d="M1267.7,1733 L1299.6,1735 M1267.7,1850 C1280,1847 1290,1843 1299.6,1838" fill="none" stroke="#000" stroke-width="3.6" stroke-linejoin="round" stroke-linecap="round"/>
<path d="M1280.5,1525.9 L1280.5,1570.6 M1296.5,1525.9 L1296.5,1570.6" fill="none" stroke="#000" stroke-width="3.8" stroke-linejoin="round" stroke-linecap="round"/>
<rect x="1274.5" y="1525.9" width="5" height="44.7" fill="#000"/>
<path d="M1280.5,1768.5 L1280.5,1812 M1296.5,1768.5 L1296.5,1812" fill="none" stroke="#000" stroke-width="3.8" stroke-linejoin="round" stroke-linecap="round"/>
<rect x="1274.5" y="1768.5" width="5" height="43.5" fill="#000"/>
<path d="M538.3,677.8 L643.8,677.8 Q652.8,677.8 652.8,686.8 L652.8,858 Q652.8,867 643.8,867 L538.3,867 Q529.3,867 529.3,858 L529.3,686.8 Q529.3,677.8 538.3,677.8 Z" fill="#fff" stroke="#000" stroke-width="2.2" stroke-linejoin="round" stroke-linecap="round"/>
<path d="M540.2,680.8 L642.2,680.8 Q649.2,680.8 649.2,687.8 L649.2,856.8 Q649.2,863.8 642.2,863.8 L540.2,863.8 Q533.2,863.8 533.2,856.8 L533.2,687.8 Q533.2,680.8 540.2,680.8 Z" fill="none" stroke="#000" stroke-width="2" stroke-linejoin="round" stroke-linecap="round"/>
<path d="M598.7,672.8 L598.7,648 L603,643.4 L636,643.4 L640.1,648 L640.1,672.8 Z" fill="#fff" stroke="#000" stroke-width="2" stroke-linejoin="round" stroke-linecap="round"/>
<path d="M598.7,649.1 L640.1,649.1 M600.5,672.8 L600.5,677.8 M634.5,672.8 L634.5,677.8" fill="none" stroke="#000" stroke-width="1.8" stroke-linejoin="round" stroke-linecap="round"/>
<path d="M578,678 L578,671 A13.45,12.7 0 0 1 604.9,671 L604.9,678" fill="#fff" stroke="#000" stroke-width="2" stroke-linejoin="round" stroke-linecap="round"/>
<path d="M584.6,678 L584.6,671 A6.85,7 0 0 1 598.3,671 L598.3,678" fill="none" stroke="#000" stroke-width="2" stroke-linejoin="round" stroke-linecap="round"/>
<line x1="624.3" y1="640" x2="624.3" y2="678" stroke="#000" stroke-width="2.3" stroke-linecap="butt"/>
<circle cx="553.4" cy="697" r="13.3" fill="#fff" stroke="#000" stroke-width="1.9"/>
<circle cx="553.4" cy="697" r="4.8" fill="none" stroke="#000" stroke-width="1.8"/>
<path d="M561.3,681 L561.3,693.5 L647.5,693.5 L637.9,701.9 L567.5,701.9 L561.3,693.5 M567.9,701.9 L567.9,800 M637.4,701.9 L637.4,800" fill="none" stroke="#000" stroke-width="1.9" stroke-linejoin="round" stroke-linecap="round"/>
<path d="M540.6,722.1 L641.8,722.1 L641.8,855.4 L540.6,855.4 Z" fill="none" stroke="#000" stroke-width="2.3" stroke-linejoin="round" stroke-linecap="round"/>
<path d="M541,733.7 L570.8,733.7 L570.8,855.4" fill="none" stroke="#000" stroke-width="2" stroke-linejoin="round" stroke-linecap="round"/>
<path d="M575.5,722.1 L575.5,843.6 L606.3,843.6 L606.3,722.1" fill="none" stroke="#000" stroke-width="2" stroke-linejoin="round" stroke-linecap="round"/>
<path d="M641.5,733.7 L610.5,733.7 L610.5,855.4" fill="none" stroke="#000" stroke-width="2" stroke-linejoin="round" stroke-linecap="round"/>
<rect x="551.2" y="729" width="9.5" height="4.7" fill="#000"/>
<rect x="621.9" y="729" width="9.4" height="4.7" fill="#000"/>
<rect x="586.4" y="843.6" width="9.5" height="5" fill="#000"/>
<path d="M553.5,801.5 C580,799 620,799 646.3,801.5 C650,804 650,812 648.3,817.7 C630,821 610,822.5 590,822 C570,821 556,818 552.1,813.6 C551,808 551,804 553.5,801.5 Z" fill="#fff" stroke="#000" stroke-width="1.9" stroke-linejoin="round" stroke-linecap="round"/>
<path d="M553.5,803 C575,808 595,812.3 607.3,812.3 C625,812.3 640,808 647,804.9" fill="none" stroke="#000" stroke-width="1.8" stroke-linejoin="round" stroke-linecap="round"/>
<path d="M574.3,821 L574.3,845 C574.3,851 585.1,851 585.1,845 L585.1,822" fill="#fff" stroke="#000" stroke-width="1.8" stroke-linejoin="round" stroke-linecap="round"/>
<path d="M585.8,822 L585.8,843.6 M599.9,822 L599.9,843.6" fill="none" stroke="#000" stroke-width="1.8" stroke-linejoin="round" stroke-linecap="round"/>
<path d="M617.4,823 L617.4,842 C617.4,851.5 630.2,851.5 630.2,842 L630.2,823" fill="none" stroke="#000" stroke-width="1.8" stroke-linejoin="round" stroke-linecap="round"/>
<path d="M599.9,843.6 L599.9,864.5 Q603.8,868 607.6,864.5 L607.6,822" fill="none" stroke="#000" stroke-width="1.8" stroke-linejoin="round" stroke-linecap="round"/>
<path d="M513.4,693.5 L531.8,693.5 L531.8,708.5 L513.4,708.5 Z" fill="#fff" stroke="#000" stroke-width="1.9" stroke-linejoin="round" stroke-linecap="round"/>
<path d="M526.1,693.5 L526.1,708.5" fill="none" stroke="#000" stroke-width="1.7" stroke-linejoin="round" stroke-linecap="round"/>
<path d="M513.4,737 L531.8,737 L531.8,752 L513.4,752 Z" fill="#fff" stroke="#000" stroke-width="1.9" stroke-linejoin="round" stroke-linecap="round"/>
<path d="M526.1,737 L526.1,752" fill="none" stroke="#000" stroke-width="1.7" stroke-linejoin="round" stroke-linecap="round"/>
<path d="M513.4,792.3 L531.8,792.3 L531.8,807.8 L513.4,807.8 Z" fill="#fff" stroke="#000" stroke-width="1.9" stroke-linejoin="round" stroke-linecap="round"/>
<path d="M526.1,792.3 L526.1,807.8" fill="none" stroke="#000" stroke-width="1.7" stroke-linejoin="round" stroke-linecap="round"/>
<path d="M513.4,835 L531.8,835 L531.8,851.5 L513.4,851.5 Z" fill="#fff" stroke="#000" stroke-width="1.9" stroke-linejoin="round" stroke-linecap="round"/>
<path d="M526.1,835 L526.1,851.5" fill="none" stroke="#000" stroke-width="1.7" stroke-linejoin="round" stroke-linecap="round"/>
<rect x="514.6" y="708.5" width="3.2" height="24.5" fill="#000"/>
<path d="M521,708.5 L521,737 M531,708.5 L531,737" fill="none" stroke="#000" stroke-width="1.7" stroke-linejoin="round" stroke-linecap="round"/>
<rect x="514.6" y="807.8" width="3.2" height="23.2" fill="#000"/>
<path d="M521,807.8 L521,835 M531,807.8 L531,835" fill="none" stroke="#000" stroke-width="1.7" stroke-linejoin="round" stroke-linecap="round"/>
<path d="M650.2,694.8 L662.5,694.8 L662.5,749.2 L650.2,749.2 Z" fill="#fff" stroke="#000" stroke-width="1.9" stroke-linejoin="round" stroke-linecap="round"/>
<path d="M652.5,699.7 L662.5,699.7 M652.5,711.6 L662.5,711.6 M652.5,731.7 L662.5,731.7 M652.5,745.2 L662.5,745.2" fill="none" stroke="#000" stroke-width="1.7" stroke-linejoin="round" stroke-linecap="round"/>
<path d="M655.5,694.8 L655.5,749.2" fill="none" stroke="#000" stroke-width="1.7" stroke-linejoin="round" stroke-linecap="round"/>
<path d="M650.2,789 L662.5,789 L662.5,847.5 L650.2,847.5 Z" fill="#fff" stroke="#000" stroke-width="1.9" stroke-linejoin="round" stroke-linecap="round"/>
<path d="M652.5,796.3 L662.5,796.3 M652.5,808.4 L662.5,808.4 M652.5,826 L662.5,826 M652.5,840.8 L662.5,840.8" fill="none" stroke="#000" stroke-width="1.7" stroke-linejoin="round" stroke-linecap="round"/>
<path d="M655.5,789 L655.5,847.5" fill="none" stroke="#000" stroke-width="1.7" stroke-linejoin="round" stroke-linecap="round"/>
<line x1="1025.7" y1="1332" x2="1025.7" y2="1455" stroke="#6a6a6a" stroke-width="2.5" stroke-linecap="butt" stroke-dasharray="8.8 10.6"/>
<polygon points="1019.5,1455.7 1019.5,1461.3 1025.7,1468.9 1031.9,1461.3 1031.9,1455.7 1025.7,1460.9" fill="#6a6a6a"/>
<path fill="#5b5b5b" d="M1674,1615.7 C1662,1611.5 1654,1610.6 1647.9,1611 C1628,1612.5 1608,1626 1596.7,1644.3 L1502.8,1803.2 C1499,1810 1501,1815.3 1508.5,1815.3 L1596.3,1815.3 C1603,1815.3 1608,1811 1611.1,1807.2 L1671,1704.3 L1699.9,1748 C1703,1751 1708,1752.5 1713.4,1752.1 C1719,1751.5 1723,1748 1725.5,1742.7 L1685.1,1684.8 C1681,1679 1676,1677.4 1670.3,1677.4 C1663,1677.4 1657,1683 1652.8,1691.5 L1595.6,1795.1 L1531,1795.1 L1607.1,1664.6 C1618,1645 1632,1629 1650,1621 C1658,1617.5 1666,1616 1674,1615.7 Z"/>
<path fill="#c30d29" d="M1560.7,1778.3 L1624.6,1667.3 C1636,1647 1652,1635 1670.3,1635 C1686,1635 1697,1641 1707,1654 L1746.4,1707.7 L1736.3,1727.2 L1694,1670 C1688,1662 1680,1656.5 1670.3,1656.5 C1658,1656.5 1650,1664 1642.1,1677 L1584.2,1778.3 Z"/>
<path fill="#c30d29" d="M1661.6,1752.1 C1675,1775 1692,1791.4 1712.4,1791.4 C1726,1791.4 1738,1786 1748,1774 L1822.3,1649.1 L1886.9,1649.1 L1814.2,1776.5 C1806,1792 1796,1807 1781.3,1814.3 C1802,1814.5 1824,1800 1839.1,1776.5 L1918,1634.8 C1920.5,1630.5 1918,1628 1913.6,1628 L1820.4,1628 C1811,1628 1804,1640 1798.1,1651 L1746.5,1740.4 C1738,1755 1726,1770.9 1712.4,1770.9 C1702,1770.9 1695,1764 1690,1756.6 L1671,1733.9 Z"/>
<path fill="#5b5b5b" d="M1834.1,1665.3 L1858.3,1665.3 L1795.6,1776.5 C1782,1800 1762,1815 1739.7,1815 C1728,1815 1718,1812 1709.3,1808.8 C1735,1806 1755,1795 1770.7,1772.7 Z"/>
<path fill="#5b5b5b" d="M1525.9,1911.5 L1525.9,1842 Q1525.9,1835.4 1532.5,1835.4 L1541.7,1835.4 L1573.4,1887 L1573.4,1835.4 L1588.8,1835.4 L1588.8,1911.5 L1573.4,1911.5 L1540.8,1860.6 L1540.8,1911.5 Z"/>
<path fill="#5b5b5b" d="M1598.8,1911.5 L1598.8,1842 Q1598.8,1835.4 1605.4,1835.4 L1654,1835.4 L1654,1850.8 L1614.2,1850.8 L1614.2,1865.3 L1638,1865.3 Q1644,1865.3 1644,1871.45 Q1644,1877.6 1638,1877.6 L1614.2,1877.6 L1614.2,1898 L1654,1898 L1654,1911.5 Z"/>
<path fill="#5b5b5b" d="M1661.3,1849.2 L1661.3,1841 Q1661.3,1835.4 1667,1835.4 L1722,1835.4 L1722,1849.2 L1699.3,1849.2 L1699.3,1911.5 L1683.5,1911.5 L1683.5,1849.2 Z"/>
<path fill="#5b5b5b" d="M1727.4,1849.2 L1727.4,1841 Q1727.4,1835.4 1733,1835.4 L1788,1835.4 L1788,1849.2 L1765.1,1849.2 L1765.1,1911.5 L1749.5,1911.5 L1749.5,1849.2 Z"/>
<path fill="#5b5b5b" fill-rule="evenodd" d="M1778.1,1911.5 L1808.9,1835.4 L1827,1835.4 L1843.3,1892.8 L1834.3,1908.5 L1828.8,1896.1 L1799,1896.1 L1794.4,1911.5 Z M1814.3,1851.7 L1824.3,1883.4 L1803.5,1883.4 Z"/>
<path fill="#c30d29" d="M1844.6,1896.8 L1849.6,1906 Q1851.5,1911.5 1846,1911.5 L1836.3,1911.5 Z"/>
</svg></body></html>
